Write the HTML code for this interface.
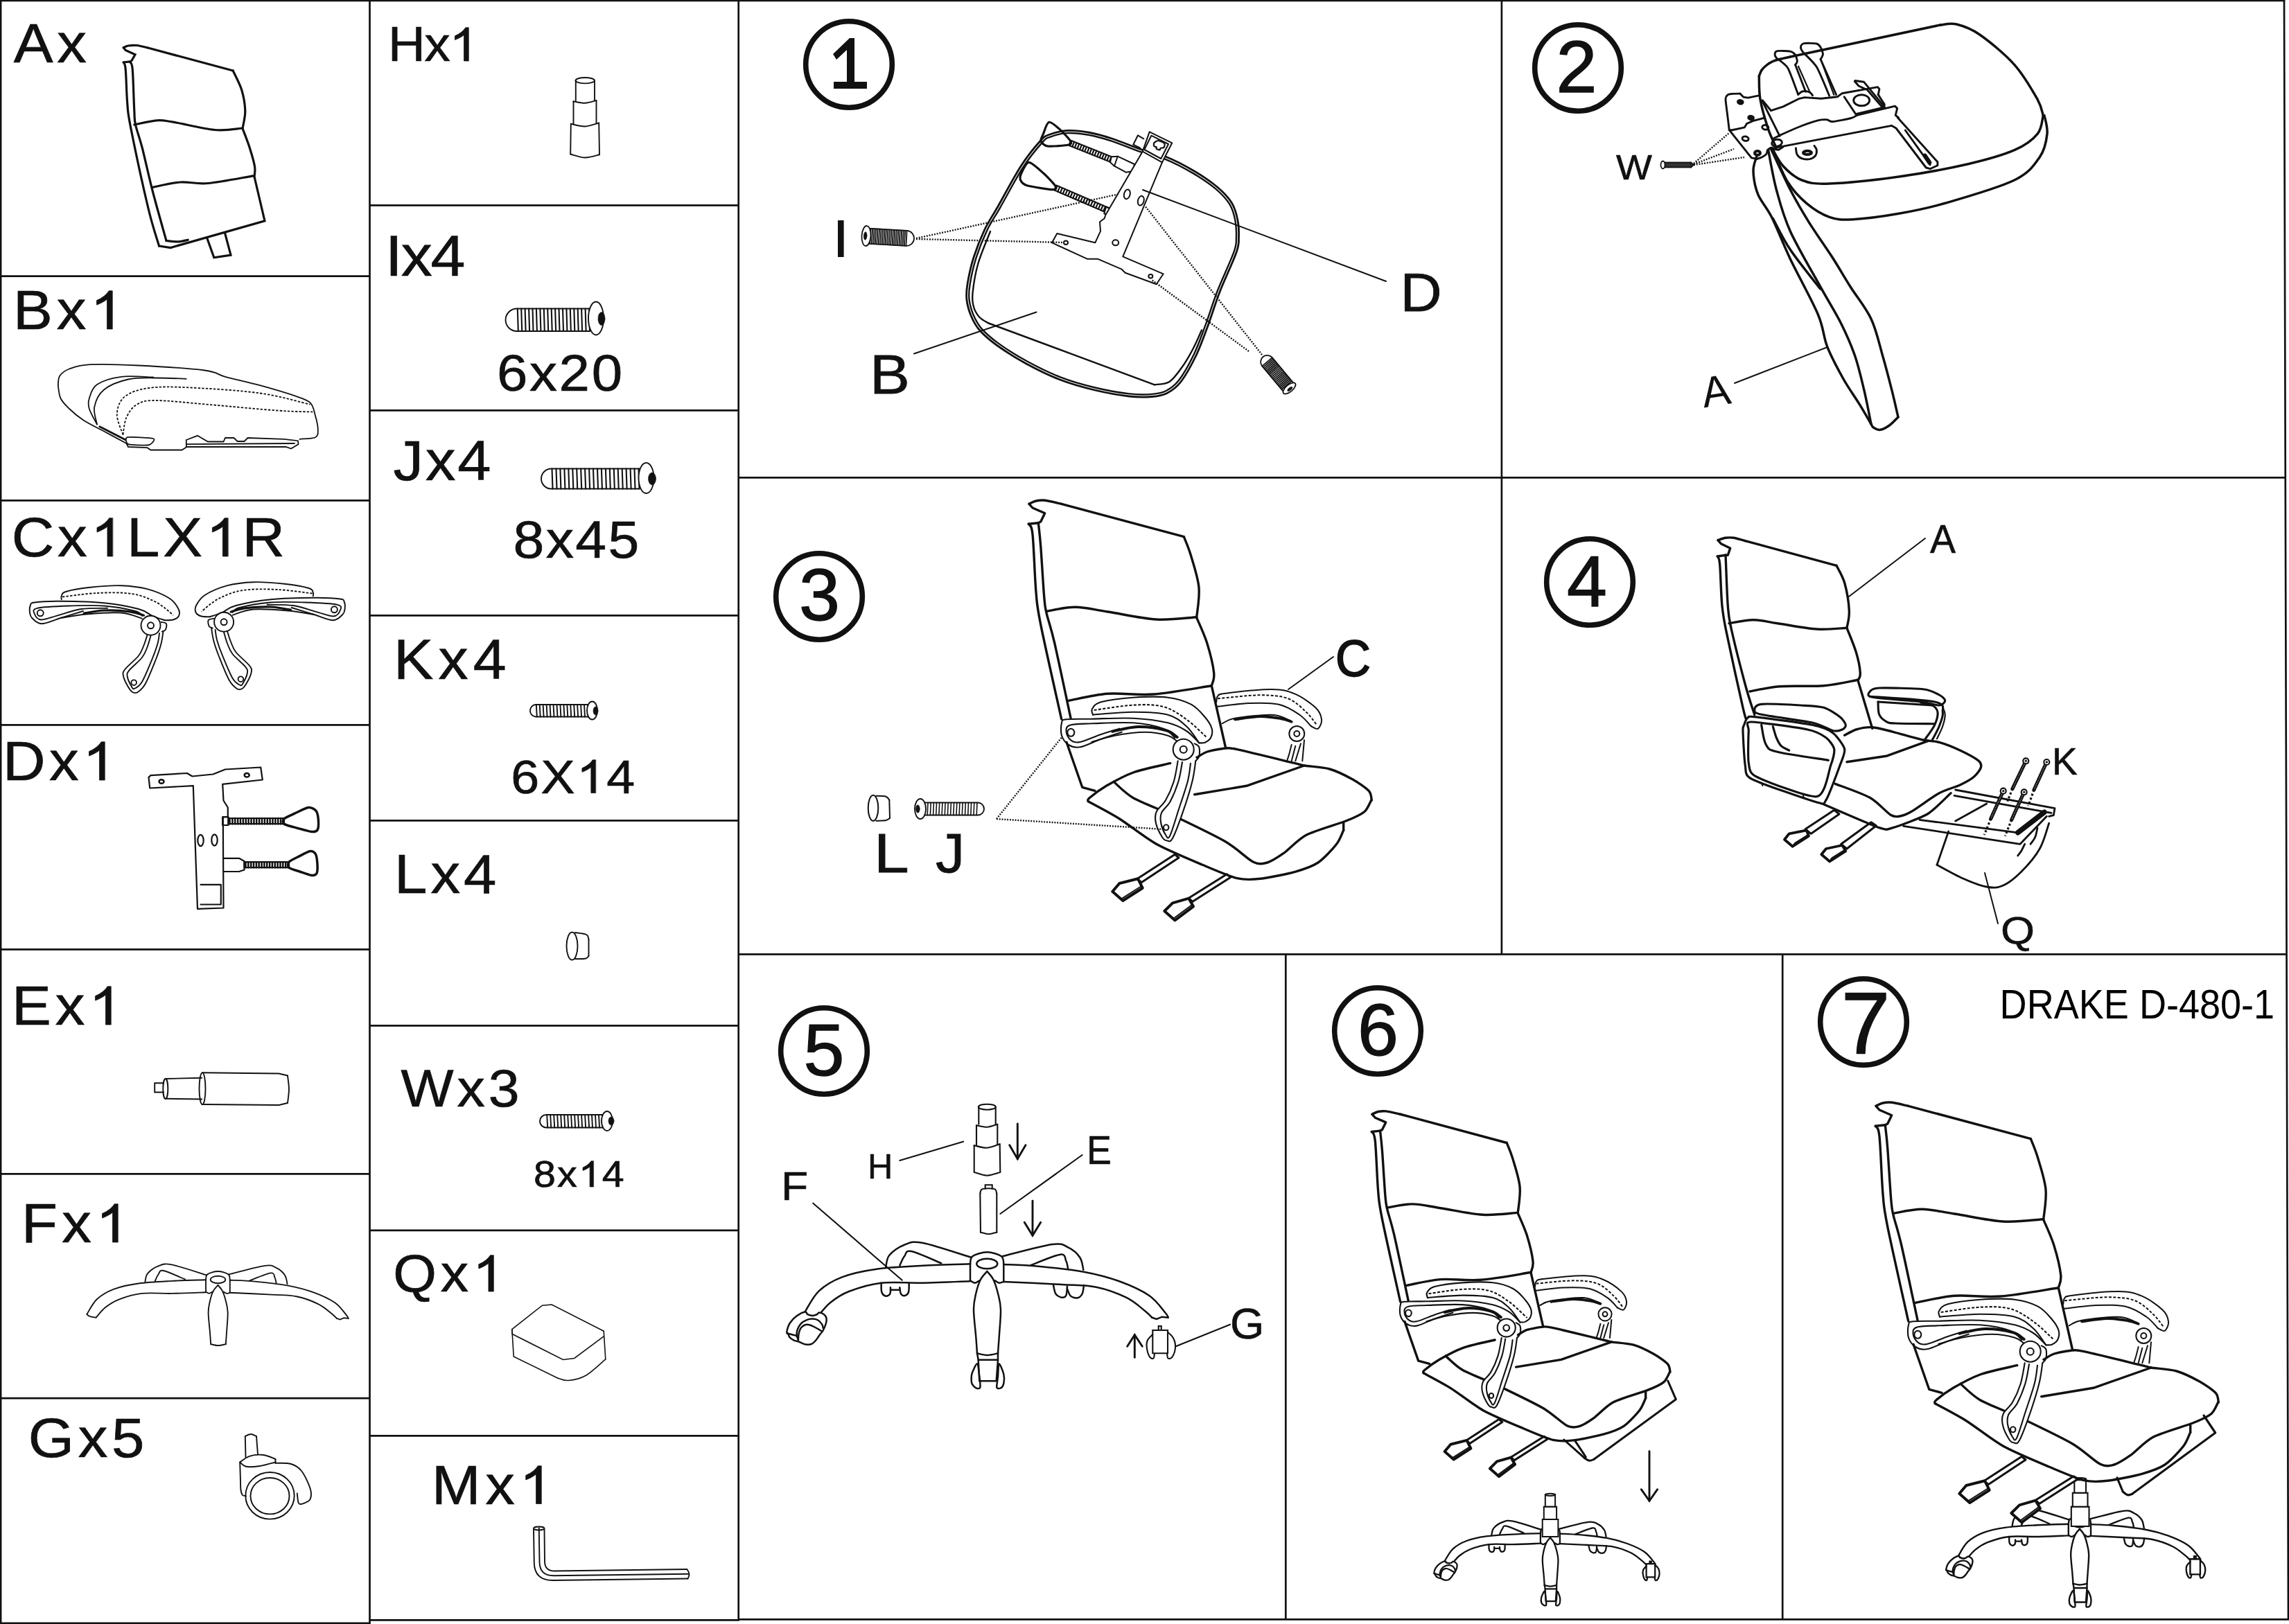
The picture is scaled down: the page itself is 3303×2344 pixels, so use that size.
<!DOCTYPE html>
<html><head><meta charset="utf-8"><title>DRAKE D-480-1</title>
<style>html,body{margin:0;padding:0;background:#fff}svg{display:block}#chair path,#chair ellipse{vector-effect:non-scaling-stroke}text{font-family:"Liberation Sans",sans-serif;fill:#111}</style>
</head><body>
<svg width="3303" height="2344" viewBox="0 0 3303 2344" fill="none" stroke="#111" stroke-linecap="round">
<rect x="0" y="0" width="3303" height="2344" fill="#fff" stroke="none"/>
<g stroke-width="2.7" stroke-linecap="butt">
<path d="M0 1 L3297.5 1M1.1 0 L1.1 2344M3296 0 L3302 2338.7M533.5 0 L533.5 2344M1065.7 0 L1065.7 2339.8M0 398.6 L533.5 398.6M0 722.3 L533.5 722.3M0 1046.3 L533.5 1046.3M0 1370.3 L533.5 1370.3M0 1694.4 L533.5 1694.4M0 2018.2 L533.5 2018.2M0 2342.8 L533.5 2342.8M533.5 296.4 L1065.7 296.4M533.5 592.4 L1065.7 592.4M533.5 888.4 L1065.7 888.4M533.5 1184.4 L1065.7 1184.4M533.5 1480.4 L1065.7 1480.4M533.5 1775.9 L1065.7 1775.9M533.5 2072.3 L1065.7 2072.3M533.5 2338.4 L1065.7 2338.4M1065.7 689.3 L3298 689.3M1065.7 1377.4 L3300 1377.4M1065.7 2337.4 L3303 2337.4M2166.9 0 L2166.9 1377.4M1855.3 1377.4 L1855.3 2338M2572.2 1377.4 L2572.2 2338"/>
</g>
<text stroke-width="0.7" transform="translate(19.8,90) scale(1.0666,1)" font-size="79.9">A</text>
<text stroke-width="0.7" transform="translate(82.3,90) scale(1.0666,1)" font-size="79.9">x</text>
<text stroke-width="0.7" transform="translate(19,475) scale(1.0666,1)" font-size="79.9">B</text>
<text stroke-width="0.7" transform="translate(81.7,475) scale(1.0666,1)" font-size="79.9">x</text>
<path d="M763 0 L583 0 L583 1147 Q518 1085 412.5 1023 T223 930 L223 1104 Q372 1174 483.5 1273.5 T647 1472 L763 1472 Z" transform="translate(130.2,475) scale(0.04164,-0.03752)" fill="#111" stroke-width="18.7"/>
<text stroke-width="0.7" transform="translate(16.7,803) scale(1.0666,1)" font-size="79.9">C</text>
<text stroke-width="0.7" transform="translate(83.1,803) scale(1.0666,1)" font-size="79.9">x</text>
<path d="M763 0 L583 0 L583 1147 Q518 1085 412.5 1023 T223 930 L223 1104 Q372 1174 483.5 1273.5 T647 1472 L763 1472 Z" transform="translate(130.7,803) scale(0.04164,-0.03752)" fill="#111" stroke-width="18.7"/>
<text stroke-width="0.7" transform="translate(183,803) scale(1.0666,1)" font-size="79.9">L</text>
<text stroke-width="0.7" transform="translate(235.3,803) scale(1.0666,1)" font-size="79.9">X</text>
<path d="M763 0 L583 0 L583 1147 Q518 1085 412.5 1023 T223 930 L223 1104 Q372 1174 483.5 1273.5 T647 1472 L763 1472 Z" transform="translate(297.1,803) scale(0.04164,-0.03752)" fill="#111" stroke-width="18.7"/>
<text stroke-width="0.7" transform="translate(349.4,803) scale(1.0666,1)" font-size="79.9">R</text>
<text stroke-width="0.7" transform="translate(4,1126) scale(1.0666,1)" font-size="79.9">D</text>
<text stroke-width="0.7" transform="translate(71.1,1126) scale(1.0666,1)" font-size="79.9">x</text>
<path d="M763 0 L583 0 L583 1147 Q518 1085 412.5 1023 T223 930 L223 1104 Q372 1174 483.5 1273.5 T647 1472 L763 1472 Z" transform="translate(119.2,1126) scale(0.04164,-0.03752)" fill="#111" stroke-width="18.7"/>
<text stroke-width="0.7" transform="translate(17,1479) scale(1.0666,1)" font-size="79.9">E</text>
<text stroke-width="0.7" transform="translate(79.7,1479) scale(1.0666,1)" font-size="79.9">x</text>
<path d="M763 0 L583 0 L583 1147 Q518 1085 412.5 1023 T223 930 L223 1104 Q372 1174 483.5 1273.5 T647 1472 L763 1472 Z" transform="translate(128.2,1479) scale(0.04164,-0.03752)" fill="#111" stroke-width="18.7"/>
<text stroke-width="0.7" transform="translate(31,1793) scale(1.0666,1)" font-size="79.9">F</text>
<text stroke-width="0.7" transform="translate(89.3,1793) scale(1.0666,1)" font-size="79.9">x</text>
<path d="M763 0 L583 0 L583 1147 Q518 1085 412.5 1023 T223 930 L223 1104 Q372 1174 483.5 1273.5 T647 1472 L763 1472 Z" transform="translate(138.2,1793) scale(0.04164,-0.03752)" fill="#111" stroke-width="18.7"/>
<text stroke-width="0.7" transform="translate(40.7,2103) scale(1.0666,1)" font-size="79.9">G</text>
<text stroke-width="0.7" transform="translate(112.8,2103) scale(1.0666,1)" font-size="79.9">x</text>
<text stroke-width="0.7" transform="translate(161.1,2103) scale(1.0666,1)" font-size="79.9">5</text>
<text stroke-width="0.7" transform="translate(559.9,88) scale(1.0666,1)" font-size="69.8">H</text>
<text stroke-width="0.7" transform="translate(612.4,88) scale(1.0666,1)" font-size="69.8">x</text>
<path d="M763 0 L583 0 L583 1147 Q518 1085 412.5 1023 T223 930 L223 1104 Q372 1174 483.5 1273.5 T647 1472 L763 1472 Z" transform="translate(648.3,88) scale(0.03634,-0.03274)" fill="#111" stroke-width="21.4"/>
<text stroke-width="0.7" transform="translate(555.7,397.5) scale(1.0666,1)" font-size="84.3">I</text>
<text stroke-width="0.7" transform="translate(578.7,397.5) scale(1.0666,1)" font-size="84.3">x</text>
<text stroke-width="0.7" transform="translate(621.6,397.5) scale(1.0666,1)" font-size="84.3">4</text>
<text stroke-width="0.7" transform="translate(567.6,693) scale(1.0666,1)" font-size="81.4">J</text>
<text stroke-width="0.7" transform="translate(613.9,693) scale(1.0666,1)" font-size="81.4">x</text>
<text stroke-width="0.7" transform="translate(660.2,693) scale(1.0666,1)" font-size="81.4">4</text>
<text stroke-width="0.7" transform="translate(567.9,979.5) scale(1.0666,1)" font-size="80.7">K</text>
<text stroke-width="0.7" transform="translate(632.5,979.5) scale(1.0666,1)" font-size="80.7">x</text>
<text stroke-width="0.7" transform="translate(682.7,979.5) scale(1.0666,1)" font-size="80.7">4</text>
<text stroke-width="0.7" transform="translate(569,1288.5) scale(1.0666,1)" font-size="79.9">L</text>
<text stroke-width="0.7" transform="translate(621.4,1288.5) scale(1.0666,1)" font-size="79.9">x</text>
<text stroke-width="0.7" transform="translate(669.1,1288.5) scale(1.0666,1)" font-size="79.9">4</text>
<text stroke-width="0.7" transform="translate(578.6,1597) scale(1.0666,1)" font-size="75.6">W</text>
<text stroke-width="0.7" transform="translate(659.6,1597) scale(1.0666,1)" font-size="75.6">x</text>
<text stroke-width="0.7" transform="translate(704.7,1597) scale(1.0666,1)" font-size="75.6">3</text>
<text stroke-width="0.7" transform="translate(567.2,1864) scale(1.0666,1)" font-size="75.6">Q</text>
<text stroke-width="0.7" transform="translate(635.8,1864) scale(1.0666,1)" font-size="75.6">x</text>
<path d="M763 0 L583 0 L583 1147 Q518 1085 412.5 1023 T223 930 L223 1104 Q372 1174 483.5 1273.5 T647 1472 L763 1472 Z" transform="translate(682,1864) scale(0.03937,-0.03547)" fill="#111" stroke-width="19.7"/>
<text stroke-width="0.7" transform="translate(623.1,2170.5) scale(1.0666,1)" font-size="79.2">M</text>
<text stroke-width="0.7" transform="translate(700.4,2170.5) scale(1.0666,1)" font-size="79.2">x</text>
<path d="M763 0 L583 0 L583 1147 Q518 1085 412.5 1023 T223 930 L223 1104 Q372 1174 483.5 1273.5 T647 1472 L763 1472 Z" transform="translate(749.5,2170.5) scale(0.04127,-0.03718)" fill="#111" stroke-width="18.8"/>
<text stroke-width="0.7" transform="translate(716.9,564) scale(1.0666,1)" font-size="74.9">6</text>
<text stroke-width="0.7" transform="translate(764,564) scale(1.0666,1)" font-size="74.9">x</text>
<text stroke-width="0.7" transform="translate(806.6,564) scale(1.0666,1)" font-size="74.9">2</text>
<text stroke-width="0.7" transform="translate(853.7,564) scale(1.0666,1)" font-size="74.9">0</text>
<text stroke-width="0.7" transform="translate(740.5,805) scale(1.0666,1)" font-size="75.6">8</text>
<text stroke-width="0.7" transform="translate(787.7,805) scale(1.0666,1)" font-size="75.6">x</text>
<text stroke-width="0.7" transform="translate(830.3,805) scale(1.0666,1)" font-size="75.6">4</text>
<text stroke-width="0.7" transform="translate(877.5,805) scale(1.0666,1)" font-size="75.6">5</text>
<text stroke-width="0.7" transform="translate(737.3,1144.5) scale(1.0666,1)" font-size="69">6</text>
<text stroke-width="0.7" transform="translate(780.5,1144.5) scale(1.0666,1)" font-size="69">X</text>
<path d="M763 0 L583 0 L583 1147 Q518 1085 412.5 1023 T223 930 L223 1104 Q372 1174 483.5 1273.5 T647 1472 L763 1472 Z" transform="translate(831.9,1144.5) scale(0.03597,-0.0324)" fill="#111" stroke-width="21.6"/>
<text stroke-width="0.7" transform="translate(875.2,1144.5) scale(1.0666,1)" font-size="69">4</text>
<text stroke-width="0.7" transform="translate(770,1713) scale(1.0666,1)" font-size="53.8">8</text>
<text stroke-width="0.7" transform="translate(804,1713) scale(1.0666,1)" font-size="53.8">x</text>
<path d="M763 0 L583 0 L583 1147 Q518 1085 412.5 1023 T223 930 L223 1104 Q372 1174 483.5 1273.5 T647 1472 L763 1472 Z" transform="translate(834.8,1713) scale(0.02802,-0.02524)" fill="#111" stroke-width="27.7"/>
<text stroke-width="0.7" transform="translate(868.8,1713) scale(1.0666,1)" font-size="53.8">4</text>
<g stroke-width="3.2">
<path d="M178.2 68.8 C179.4 68.3 181.8 66.5 185 66 C188.2 65.5 192.9 65 197.5 65.5 C202.1 66 210 68.2 212.5 68.8"/>
<path d="M212.5 68.8 L336.2 102"/>
<path d="M336.2 102 C338.3 106.7 345.8 120.3 348.8 130 C351.7 139.7 353.5 150.8 353.8 160 C354 169.2 350.6 181.2 350 185.5"/>
<path d="M350 185.5 C351.7 190 357.1 203.4 360 212.5 C362.9 221.6 366.3 232.9 367.5 240 C368.7 247.1 367.1 252.5 367 255"/>
<path d="M367 255 L382 318.8 L246.2 357.5 L229.5 355"/>
<path d="M178.2 90 C178.8 91.7 180.3 90 181.2 100 C182.2 110 182.5 135.8 183.8 150 C185 164.2 183.8 160 188.8 185 C193.8 210 207 271.7 213.8 300 C220.5 328.3 226.9 345.8 229.5 355"/>
<path d="M187.5 89.5 C188.1 91.2 190.2 88.2 191.2 100 C192.3 111.8 193 146.7 193.8 160 C194.5 173.3 193.6 171.2 195.5 180 C197.4 188.8 200.9 196.7 205 212.5 C209.1 228.3 214.2 252.5 220 275 C225.8 297.5 236.7 335.4 240 347.5"/>
<path d="M240 347.5 C242.9 347.7 252.3 349 257.5 348.8 C262.7 348.5 269 346.7 271.2 346.2"/>
<path d="M178.2 68.8 L181.2 72.5 L195 78.8 L190 87.5 L187.5 89.5"/>
<path d="M178.2 90 L187.5 88.8"/>
<path d="M193.8 180 C199.2 179 216.9 174.4 226.2 173.8 C235.6 173.1 236 174 250 176.2 C264 178.5 293.3 186 310 187.5 C326.7 189 343.3 185.4 350 185"/>
<path d="M219.5 270.5 C226.2 269.2 246.6 264 260 263 C273.4 262 282.4 266 300 264.5 C317.6 263 354.6 255.5 365.5 253.8"/>
<path d="M298.8 343.8 L308.8 371.8 L333 368.2 L324.5 336.2"/>
</g>
<g stroke-width="1.8">
<path d="M83.8 556.2 C84.2 554 83.5 546.5 86.2 542.5 C89 538.5 92.7 535.2 100 532.5 C107.3 529.8 113.3 527.1 130 526.2 C146.7 525.4 172.5 526.1 200 527.5 C227.5 528.9 274.2 531.8 295 534.5 C315.8 537.2 311.7 540.1 325 543.8 C338.3 547.4 358.3 551.7 375 556.2 C391.7 560.8 412.9 567.1 425 571.2 C437.1 575.4 442.5 576.5 447.5 581.2 C452.5 586 453.1 593.5 455 600 C456.9 606.5 458.8 614.8 458.8 620 C458.8 625.2 459.4 629 455 631.2 C450.6 633.5 436.2 633.3 432.5 633.8"/>
<path d="M83.8 556.2 C84.4 559.4 84.8 569.4 87.5 575 C90.2 580.6 94.6 584.8 100 590 C105.4 595.2 111.7 600.8 120 606.2 C128.3 611.7 139.6 616.9 150 622.5 C160.4 628.1 177.1 637.1 182.5 640"/>
<path d="M143.8 615.8 L180.5 634.5" stroke-width="2.8"/>
<path d="M140 612.5 C138.1 608.8 130.6 596.2 128.8 590 C126.9 583.8 126.9 580.8 128.8 575 C130.6 569.2 132.3 560.2 140 555 C147.7 549.8 161.5 545.5 175 543.8 C188.5 542 213.5 544.4 221.2 544.5"/>
<path d="M140 612.5 C139.4 608.3 134.6 595.8 136.2 587.5 C137.9 579.2 141.9 569.2 150 562.5 C158.1 555.8 172.5 550.3 185 547.5 C197.5 544.7 211 545.6 225 545.5 C239 545.4 261.5 546.5 268.8 546.8"/>
<path d="M177.5 627.5 C176 622.5 168.3 606.7 168.8 597.5 C169.2 588.3 172.3 578.8 180 572.5 C187.7 566.2 199.2 562.2 215 560 C230.8 557.8 248.3 558.2 275 559.5 C301.7 560.8 346.2 563.5 375 567.5 C403.8 571.5 435.4 581 447.5 583.8" stroke-dasharray="3.4 2.2" stroke-linecap="butt"/>
<path d="M177.5 627.5 C178.3 623.3 179.2 609.8 182.5 602.5 C185.8 595.2 190.4 587.8 197.5 583.8 C204.6 579.7 207.9 578 225 578 C242.1 578 270.8 581.3 300 583.8 C329.2 586.2 374.8 590.7 400 592.5 C425.2 594.3 442.7 594.2 451.2 594.5" stroke-dasharray="3.4 2.2" stroke-linecap="butt"/>
<path d="M182.5 640 L185 645 L212.5 646.2 L217.5 649.5 L262.5 649.5 L268.8 645.5 L268.8 635 L285 628.8 L300 637.5 L322.5 637.5 L325 632 L337.5 632 L342.5 637 L352.5 637 L357.5 632 L410 633.8 L430 636.2 L430.5 641.2 L420 647.5 L412.5 645 L268.8 645"/>
<path d="M183.8 631.2 C187.4 630.4 217.8 632.1 221.2 633 C224.8 633.9 219.6 639 218.8 640 C217.9 641 215.9 642.4 212.5 642.5 C209.1 642.6 187.9 642.4 185 641.2 C182.1 640.1 180.1 632.1 183.8 631.2Z"/>
<path d="M268.8 641.2 L425 640"/>
</g>
<g id="armC" stroke-width="1.9">
<path d="M88.8 865.2 C88.8 864.4 87.7 862.1 88.8 860.2 C89.8 858.4 88.1 856.1 95 854 C101.9 851.9 116.7 849.2 130 847.8 C143.3 846.3 161.2 844.8 175 845.2 C188.8 845.7 200.8 847.1 212.5 850.2 C224.2 853.4 237.5 859.2 245 864 C252.5 868.8 255.3 874.8 257.5 879 C259.7 883.2 259.2 886.4 258 889 C256.8 891.6 253.4 893.5 250 894.5 C246.6 895.5 239.6 895.1 237.5 895.2"/>
<path d="M90 861.5 C98.3 860.6 123.3 856.8 140 856 C156.7 855.2 175.8 854.8 190 857 C204.2 859.2 215 863.9 225 869 C235 874.1 245.8 884.6 250 887.8" stroke-dasharray="3.4 2.2" stroke-linecap="butt"/>
<path d="M237.5 895.2 C234.6 894.2 226.2 891.7 220 889 C213.8 886.3 211.7 882.1 200 879 C188.3 875.9 168.8 872.1 150 870.2 C131.2 868.4 104.2 867.9 87.5 867.8 C70.8 867.6 57.3 868.5 50 869.5 C42.7 870.5 44.9 871.6 43.8 874 C42.6 876.4 42.6 881 43 884 C43.4 887 43.4 889.3 46.2 892 C49.1 894.7 53.1 900.2 60 900.2 C66.9 900.2 77.5 895 87.5 892 C97.5 889 114.6 883.7 120 882"/>
<path d="M87.5 892 C93.8 891.1 110.4 887.8 125 886.5 C139.6 885.2 161.7 883.5 175 884.5 C188.3 885.5 200 891.4 205 892.8"/>
<path d="M205 889 C203.3 887.8 204.2 884.4 195 882 C185.8 879.6 165.8 875.8 150 874.5 C134.2 873.2 116 874 100 874.5 C84 875 62.1 875.8 53.8 877.8 C45.4 879.8 49 883.7 50 886.5 C51 889.3 54.2 894.3 60 894.5 C65.8 894.7 75.4 890.3 85 887.8 C94.6 885.2 105.8 880.7 117.5 879 C129.2 877.3 148.8 878 155 877.8"/>
<path d="M121.2 885.2 C126 884.5 139 881.4 150 881 C161 880.6 177.9 881.5 187.5 882.8 C197.1 884 204.2 887.3 207.5 888.2" stroke-width="3.2"/>
<ellipse cx="58.2" cy="884.8" rx="4.5" ry="4.5"/>
<path d="M232.5 897.8 C233.8 898.2 239 898.4 240 900.2 C241 902.1 239.8 907.1 238.8 909 C237.7 910.9 234.6 911.1 233.8 911.5"/>
<ellipse cx="217.5" cy="902.8" rx="14" ry="14" fill="#fff"/>
<ellipse cx="217.5" cy="902.8" rx="4.5" ry="4.5"/>
<path d="M212.5 916.5 C211.7 919 209.6 926.5 207.5 931.5 C205.4 936.5 204.6 940.7 200 946.5 C195.4 952.3 183.6 961.5 180 966.5 C176.4 971.5 177.4 972.3 178.2 976.5 C179.1 980.7 182.8 987.8 185 991.5 C187.2 995.2 189 997.8 191.2 999 C193.5 1000.2 195.6 1001.1 198.8 999 C201.9 996.9 205.6 994.4 210 986.5 C214.4 978.6 221.2 961.1 225 951.5 C228.8 941.9 230.8 935.7 232.5 929 C234.2 922.3 235 914.4 235.5 911.5"/>
<path d="M217.5 917.8 C216.7 920.5 214.6 928.8 212.5 934 C210.4 939.2 209.4 943.4 205 949 C200.6 954.6 189.8 963.2 186.2 967.8 C182.7 972.3 183.2 972.8 183.8 976.5 C184.3 980.2 187.8 987.3 189.5 990.2 C191.2 993.2 191.2 995 193.8 994 C196.3 993 200.6 991.3 205 984 C209.4 976.7 216.2 959.4 220 950.2 C223.8 941.1 225.8 935 227.5 929 C229.2 923 229.6 916.5 230 914"/>
<ellipse cx="193.2" cy="985.2" rx="3.8" ry="3.8"/>
</g>
<use href="#armC" transform="translate(540.6,-5) scale(-1,1)"/>
<g stroke-width="2.2" stroke-linejoin="round">
<path d="M216.2 1137.5 L214.5 1121.8 L217.5 1119.2 L270 1116 L277.5 1120.5 L307.5 1117.5 L325 1110.5 L376.2 1107.5 L378.8 1125.5 L321.2 1131.8 L322.5 1155.5 L328.8 1165.5 L328.8 1179.2 L321.8 1179.2 L322.5 1310.5 L285 1311.8 L278.8 1134.2Z"/>
<ellipse cx="233" cy="1128" rx="3.5" ry="2.8" stroke-width="2.5"/>
<ellipse cx="356.2" cy="1118.8" rx="3.5" ry="2.8" stroke-width="2.5"/>
<ellipse cx="289.5" cy="1213" rx="4.2" ry="8.2"/>
<ellipse cx="309.5" cy="1212.5" rx="4.2" ry="8.2"/>
<path d="M289.5 1276.8 L318.8 1276.8 L318.8 1305.5 L289.5 1305.5"/>
<path d="M321.2 1179.2 L329.5 1179.2 L329.5 1191 L321.2 1191Z"/>
<rect x="329.5" y="1181" width="80.5" height="8.2"/>
<path d="M331.5 1181 V1189.2M335.4 1181 V1189.2M339.2 1181 V1189.2M343.1 1181 V1189.2M347 1181 V1189.2M350.9 1181 V1189.2M354.8 1181 V1189.2M358.6 1181 V1189.2M362.5 1181 V1189.2M366.4 1181 V1189.2M370.2 1181 V1189.2M374.1 1181 V1189.2M378 1181 V1189.2M381.9 1181 V1189.2M385.8 1181 V1189.2M389.6 1181 V1189.2M393.5 1181 V1189.2M397.4 1181 V1189.2M401.2 1181 V1189.2M405.1 1181 V1189.2M409 1181 V1189.2" stroke-width="2.5"/>
<path d="M410 1181.8 C412 1179.8 420.3 1176.4 425 1174.2 C429.7 1172.1 440.8 1166 445 1165.5 C449.2 1165 454.3 1167.8 456.2 1170.5 C458.2 1173.2 459.3 1181.8 459.5 1185.5 C459.7 1189.2 459.3 1196 458 1198 C456.7 1200 453.7 1200.8 450 1200.5 C446.3 1200.2 435.3 1197 430 1195.5 C424.7 1194 412.7 1191.1 410 1189.2 C407.3 1187.4 408 1183.8 410 1181.8Z" stroke-width="3.5"/>
<path d="M322.5 1238.8 L345 1238.8 L352.5 1243 L352.5 1255.5 L345 1258 L322.5 1258"/>
<rect x="352.5" y="1244.2" width="64.5" height="8"/>
<path d="M354.5 1244.2 V1252.2M358.3 1244.2 V1252.2M362.2 1244.2 V1252.2M366 1244.2 V1252.2M369.9 1244.2 V1252.2M373.7 1244.2 V1252.2M377.6 1244.2 V1252.2M381.4 1244.2 V1252.2M385.2 1244.2 V1252.2M389.1 1244.2 V1252.2M392.9 1244.2 V1252.2M396.8 1244.2 V1252.2M400.6 1244.2 V1252.2M404.5 1244.2 V1252.2M408.3 1244.2 V1252.2M412.2 1244.2 V1252.2M416 1244.2 V1252.2" stroke-width="2.5"/>
<path d="M417 1244.2 C418.7 1242.2 425.9 1238.8 430 1236.8 C434.1 1234.7 444.1 1229 447.5 1228.5 C450.9 1228 454.1 1230.4 455.5 1233 C456.9 1235.6 457.8 1244.3 458 1248 C458.2 1251.7 458.1 1258.4 457 1260.5 C455.9 1262.6 453.3 1263.8 450 1263.5 C446.7 1263.2 436.9 1259.5 432.5 1258 C428.1 1256.5 419.1 1254.1 417 1252.2 C414.9 1250.4 415.3 1246.3 417 1244.2Z" stroke-width="3.5"/>
</g>
<g stroke-width="1.9">
<path d="M236.2 1563.2 L223.2 1563.2 L223.2 1576.5 L236.2 1576.5"/>
<path d="M238.8 1557 L291.2 1555.8"/>
<path d="M238.8 1585.8 L291.2 1586.5"/>
<ellipse cx="238.8" cy="1571.5" rx="3.5" ry="14.5"/>
<path d="M292.5 1548.2 L402.5 1549.5 L415 1552.5"/>
<path d="M415 1592 L402.5 1595 L292.5 1594"/>
<path d="M415 1552.5 C415.3 1555.8 417 1565.4 417 1572 C417 1578.6 415.3 1588.7 415 1592"/>
<ellipse cx="292" cy="1571.2" rx="4.5" ry="23"/>
</g>
<g stroke-width="1.9">
<ellipse cx="389.5" cy="2158.8" rx="35.2" ry="33.8"/>
<ellipse cx="389.5" cy="2159.2" rx="28" ry="26.2"/>
<path d="M354.5 2103 L353.8 2073"/>
<path d="M353.8 2073 C355.1 2072.5 359.3 2070 362 2070 C364.7 2070 368.7 2072.5 370 2073"/>
<path d="M370 2073 L372 2099.2"/>
<path d="M346.2 2110.5 C348.5 2109 354.4 2103.5 360 2101.8 C365.6 2100 373.8 2099.3 380 2100 C386.2 2100.7 394.6 2105 397.5 2106"/>
<path d="M346.2 2110.5 C347.7 2111.5 350.2 2115.8 355 2116.8 C359.8 2117.7 367.9 2117 375 2116 C382.1 2115 393.8 2111.4 397.5 2110.5"/>
<path d="M397.5 2106 L397.5 2111.8"/>
<path d="M346.2 2110.5 C346.4 2115.1 346.8 2131.3 347 2138 C347.2 2144.7 347 2147.2 347.5 2150.5 C348 2153.8 348.8 2156.5 350 2158 C351.2 2159.5 354.2 2159 355 2159.2"/>
<path d="M397.5 2111.8 C401.2 2112 413.8 2111.1 420 2113 C426.2 2114.9 430.4 2117.2 435 2123 C439.6 2128.8 445.3 2141.3 447.5 2148 C449.7 2154.7 449.2 2159.5 448 2163 C446.8 2166.5 442.8 2168.1 440 2169.2 C437.2 2170.4 433.1 2172.3 431.2 2170 C429.4 2167.7 429.2 2157.9 428.8 2155.5"/>
</g>
<g stroke-width="1.9">
<ellipse cx="844.2" cy="116.2" rx="13.7" ry="4.2"/>
<path d="M830.8 116.2 L830.8 145"/>
<path d="M858 116.2 L858 145"/>
<path d="M827.5 146.2 C830.3 146.7 838.8 149 844.2 148.8 C849.8 148.5 857.8 145.6 860.5 145"/>
<path d="M827.5 146.2 L827.5 178.8"/>
<path d="M860.5 145 L860.5 178"/>
<path d="M823.8 178.8 C827.2 179.4 837.5 182.7 844.2 182.5 C851 182.3 860.9 178.3 864.2 177.5"/>
<path d="M823.8 178.8 L823.2 222.5"/>
<path d="M864.2 177.5 L865 223.2"/>
<path d="M823.2 222.5 C826.8 223.3 837.3 227.4 844.2 227.5 C851.2 227.6 861.5 224 865 223.2"/>
</g>
<path d="M851 445.5 L745.8 445.5 A16.2 16.2 0 0 0 745.8 478 L851 478" stroke-width="1.9"/>
<path d="M746.8 445.5 L747.8 478M752.2 445.5 L753.2 478M757.6 445.5 L758.6 478M763.1 445.5 L764.1 478M768.5 445.5 L769.5 478M773.9 445.5 L774.9 478M779.4 445.5 L780.4 478M784.8 445.5 L785.8 478M790.2 445.5 L791.2 478M795.7 445.5 L796.7 478M801.1 445.5 L802.1 478M806.5 445.5 L807.5 478M812 445.5 L813 478M817.4 445.5 L818.4 478M822.8 445.5 L823.8 478M828.3 445.5 L829.3 478M833.7 445.5 L834.7 478M839.1 445.5 L840.1 478M844.6 445.5 L845.6 478M850 445.5 L851 478" stroke-width="2.1"/>
<ellipse cx="860" cy="459.5" rx="11" ry="24" stroke-width="1.9" fill="#fff"/>
<ellipse cx="868" cy="460" rx="5" ry="9.5" stroke-width="0.6" fill="#111"/>
<path d="M922.5 676.5 L795.5 676.5 A14.5 14.5 0 0 0 795.5 705.5 L922.5 705.5" stroke-width="1.9"/>
<path d="M796.5 676.5 L797.5 705.5M802.5 676.5 L803.5 705.5M808.4 676.5 L809.4 705.5M814.4 676.5 L815.4 705.5M820.3 676.5 L821.3 705.5M826.3 676.5 L827.3 705.5M832.2 676.5 L833.2 705.5M838.2 676.5 L839.2 705.5M844.1 676.5 L845.1 705.5M850.1 676.5 L851.1 705.5M856 676.5 L857 705.5M862 676.5 L863 705.5M867.9 676.5 L868.9 705.5M873.9 676.5 L874.9 705.5M879.8 676.5 L880.8 705.5M885.8 676.5 L886.8 705.5M891.7 676.5 L892.7 705.5M897.7 676.5 L898.7 705.5M903.6 676.5 L904.6 705.5M909.6 676.5 L910.6 705.5M915.5 676.5 L916.5 705.5M921.5 676.5 L922.5 705.5" stroke-width="2.1"/>
<ellipse cx="932.5" cy="690" rx="11" ry="22" stroke-width="1.9" fill="#fff"/>
<ellipse cx="941" cy="691" rx="5.5" ry="9" stroke-width="0.6" fill="#111"/>
<path d="M849 1017 L772.8 1017 A8.8 8.8 0 0 0 772.8 1034.5 L849 1034.5" stroke-width="1.9"/>
<path d="M773.8 1017 L774.8 1034.5M778.7 1017 L779.7 1034.5M783.6 1017 L784.6 1034.5M788.6 1017 L789.6 1034.5M793.5 1017 L794.5 1034.5M798.5 1017 L799.5 1034.5M803.5 1017 L804.5 1034.5M808.4 1017 L809.4 1034.5M813.4 1017 L814.4 1034.5M818.3 1017 L819.3 1034.5M823.2 1017 L824.2 1034.5M828.2 1017 L829.2 1034.5M833.1 1017 L834.1 1034.5M838.1 1017 L839.1 1034.5M843 1017 L844 1034.5M848 1017 L849 1034.5" stroke-width="1.9"/>
<ellipse cx="854.5" cy="1025.5" rx="7.5" ry="13" stroke-width="1.9" fill="#fff"/>
<ellipse cx="859.5" cy="1026" rx="3.5" ry="6" stroke-width="0.6" fill="#111"/>
<path d="M870 1609 L788.2 1609 A9.2 9.2 0 0 0 788.2 1627.5 L870 1627.5" stroke-width="1.9"/>
<path d="M789.2 1609 L790.2 1627.5M794.2 1609 L795.2 1627.5M799.2 1609 L800.2 1627.5M804.2 1609 L805.2 1627.5M809.2 1609 L810.2 1627.5M814.2 1609 L815.2 1627.5M819.2 1609 L820.2 1627.5M824.1 1609 L825.1 1627.5M829.1 1609 L830.1 1627.5M834.1 1609 L835.1 1627.5M839.1 1609 L840.1 1627.5M844.1 1609 L845.1 1627.5M849.1 1609 L850.1 1627.5M854 1609 L855 1627.5M859 1609 L860 1627.5M864 1609 L865 1627.5M869 1609 L870 1627.5" stroke-width="1.9"/>
<ellipse cx="876" cy="1618" rx="8" ry="14" stroke-width="1.9" fill="#fff"/>
<ellipse cx="882" cy="1618" rx="4" ry="6" stroke-width="0.6" fill="#111"/>
<g stroke-width="1.9">
<ellipse cx="825.5" cy="1365.5" rx="8" ry="20"/>
<path d="M830 1346 C832.7 1346.5 843 1347.3 846.2 1349 C849.5 1350.7 849 1354.8 849.5 1356"/>
<path d="M849.5 1356 L849.5 1379.8"/>
<path d="M849.5 1379.8 C848.8 1380.4 848.2 1382.8 845 1383.5 C841.8 1384.2 832.5 1383.9 830 1384"/>
</g>
<g stroke-width="1.6">
<path d="M739.2 1925.5 L738.8 1918.5 L782.5 1884.2 L796.2 1883 L871.2 1921.2"/>
<path d="M739.2 1925.5 L812.5 1962.5 L828.8 1960.5 L871.2 1928.8"/>
<path d="M738.8 1918.5 L741.2 1958 L805 1989.2"/>
<path d="M805 1989.2 C807.5 1989.8 813.3 1993.1 820 1992.5 C826.7 1991.9 836 1990.6 845 1985.5 C854 1980.4 869 1965.7 873.8 1961.8"/>
<path d="M873.8 1961.8 L871.2 1921.2"/>
</g>
<g stroke-width="1.9" transform="translate(520,1938) scale(0.25)">
<g stroke-width="7.6"><path d="M1000 1075 L1003 1270 Q1005 1372 1110 1372 L1890 1362"/><path d="M1062 1075 L1064 1265 Q1066 1318 1120 1318 L1885 1308"/><path d="M1031 1070 L1034 1268 Q1036 1345 1115 1345 L1895 1335"/><ellipse cx="1031" cy="1072" rx="31" ry="10"/><path d="M1885 1308 Q1908 1335 1890 1362"/></g>
</g>
<defs>
<g id="baseF">
<ellipse cx="1424.3" cy="1824" rx="15" ry="7.3"/>
<path d="M1400 1825 C1400.6 1823.1 1399.3 1816.3 1403.3 1813.3 C1407.4 1810.4 1417.4 1807.3 1424.3 1807.3 C1431.3 1807.3 1441 1810.4 1445 1813.3 C1449 1816.3 1447.8 1823.1 1448.3 1825"/>
<path d="M1400 1825 L1400 1848.3"/>
<path d="M1448.3 1825 L1448.3 1850"/>
<path d="M1400 1848.3 C1401.1 1848.9 1404.4 1851.7 1406.7 1851.7 C1408.9 1851.7 1412.2 1848.9 1413.3 1848.3"/>
<path d="M1435.7 1848.3 C1436.7 1848.9 1439.6 1851.4 1441.7 1851.7 C1443.8 1851.9 1447.2 1850.3 1448.3 1850"/>
<path d="M1400 1824.3 C1388.6 1824.7 1354.2 1825.4 1331.7 1826.7 C1309.2 1827.9 1284.4 1828.9 1265 1831.7 C1245.6 1834.4 1228.9 1838.1 1215 1843.3 C1201.1 1848.6 1190.6 1855 1181.7 1863.3 C1172.8 1871.7 1165 1888.3 1161.7 1893.3"/>
<path d="M1400 1849.3 C1388.6 1849.7 1353.1 1851.3 1331.7 1851.7 C1310.3 1852.1 1289.4 1849.6 1271.7 1851.7 C1253.9 1853.7 1237.2 1859.3 1225 1864 C1212.8 1868.7 1205.8 1874 1198.3 1880 C1190.8 1886 1183.1 1896.7 1180 1900"/>
<path d="M1448.3 1825 C1456.7 1825.4 1478.9 1825.8 1498.3 1827.7 C1517.8 1829.5 1545.6 1832.4 1565 1836 C1584.4 1839.6 1599.4 1843.7 1615 1849.3 C1630.6 1855 1647.2 1862.4 1658.3 1870 C1669.4 1877.6 1677.1 1889.7 1681.7 1895 C1686.2 1900.3 1685 1900.6 1685.7 1901.7"/>
<path d="M1448.3 1850 C1462.2 1850.7 1509.4 1852.7 1531.7 1854 C1553.9 1855.3 1566.1 1854.6 1581.7 1857.7 C1597.2 1860.8 1613.3 1867 1625 1872.7 C1636.7 1878.3 1645.4 1886.8 1651.7 1891.7 C1657.9 1896.5 1660.6 1900 1662.3 1901.7"/>
<path d="M1278.3 1828.3 C1279.2 1825.6 1278.9 1816.9 1283.3 1811.7 C1287.8 1806.4 1296.9 1799.6 1305 1796.7 C1313.1 1793.7 1315.6 1790.9 1331.7 1794 C1347.8 1797.1 1390 1811.5 1401.7 1815"/>
<path d="M1298.3 1826.7 C1299.4 1824.4 1302.2 1816.8 1305 1813.3 C1307.8 1809.9 1306.1 1804.3 1315 1806 C1323.9 1807.7 1351.1 1820.4 1358.3 1823.3"/>
<path d="M1446.7 1813.3 C1458.6 1810.4 1502.5 1798.1 1518.3 1796 C1534.2 1793.9 1535 1797.5 1541.7 1800.7 C1548.3 1803.8 1554.7 1809.7 1558.3 1815 C1561.9 1820.3 1562.5 1829.7 1563.3 1832.7"/>
<path d="M1487.7 1826 C1494.7 1823.4 1521.6 1811.7 1530 1810.7 C1538.4 1809.7 1536.5 1816.7 1538.3 1820 C1540.2 1823.3 1540.6 1828.9 1541 1830.7"/>
<path d="M1424.3 1835 C1422.8 1836.9 1417.7 1841.4 1415 1846.7 C1412.3 1851.9 1410 1859.4 1408.3 1866.7 C1406.7 1873.9 1405 1879.4 1405 1890 C1405 1900.6 1407.5 1919.4 1408.3 1930 C1409.2 1940.6 1409.7 1949.4 1410 1953.3"/>
<path d="M1424.3 1835 C1425.8 1836.9 1430.7 1841.4 1433.3 1846.7 C1435.9 1851.9 1438.2 1859.4 1440 1866.7 C1441.8 1873.9 1443.7 1879.4 1444 1890 C1444.3 1900.6 1442.3 1919.4 1441.7 1930 C1441 1940.6 1440.3 1949.4 1440 1953.3"/>
</g>
<g id="baseEnds">
<path d="M1662.3 1901.7 L1669 1904 L1676.7 1900.7 L1685.7 1901.7"/>
</g>
<g id="baseLeftEnd">
<path d="M1161.7 1893.3 C1162.5 1894 1164.4 1896.3 1166.7 1897.3 C1168.9 1898.3 1172.8 1898.9 1175 1899.3 C1177.2 1899.8 1179.2 1899.9 1180 1900"/>
</g>
<g id="baseLegFlat">
<path d="M1410 1953.3 C1412.4 1953.8 1419.3 1956 1424.3 1956 C1429.3 1956 1437.4 1953.8 1440 1953.3"/>
</g>
<g id="baseStems">
<path d="M1271.7 1851.7 C1271.8 1853.9 1271.2 1861.8 1272.3 1865 C1273.4 1868.2 1276.3 1870.3 1278.3 1870.7 C1280.3 1871.1 1283.2 1869.4 1284.3 1867.3 C1285.4 1865.3 1284.9 1859.8 1285 1858.3"/>
<path d="M1298.3 1858.3 C1298.6 1859.8 1298.8 1865.4 1300 1867.3 C1301.2 1869.3 1303.8 1870.4 1305.7 1870 C1307.5 1869.6 1310 1868.1 1311 1865 C1312 1861.9 1311.6 1853.9 1311.7 1851.7"/>
<path d="M1285 1861.7 L1298.3 1861.7"/>
<path d="M1520 1855 C1520.6 1857.1 1521.4 1864.4 1523.3 1867.3 C1525.3 1870.3 1529.2 1872.2 1531.7 1872.7 C1534.2 1873.1 1536.9 1872.7 1538.3 1870 C1539.7 1867.3 1539.7 1858.9 1540 1856.7"/>
<path d="M1540 1860 C1540.8 1861.8 1542.5 1868.4 1545 1870.7 C1547.5 1872.9 1552.2 1873.9 1555 1873.3 C1557.8 1872.8 1560.2 1870.4 1561.7 1867.3 C1563.2 1864.3 1563.6 1857.1 1564 1855"/>
</g>
<g id="casterL">
<path d="M1161.7 1893.4 C1159.1 1893.8 1153.1 1896.8 1149.4 1899.6 C1145.7 1902.3 1141.8 1906.7 1139.6 1910 C1137.3 1913.3 1136.5 1916.9 1135.9 1919.3 C1135.2 1921.6 1135.3 1923.3 1135.6 1924.2 C1135.8 1925.1 1136.4 1923.8 1137.1 1924.8 C1137.8 1925.8 1138.1 1928.7 1139.6 1930.3 C1141 1932 1143.6 1933.6 1145.7 1934.7 C1147.9 1935.7 1150.2 1935.7 1152.5 1936.5 C1154.7 1937.3 1157.1 1938.9 1159.3 1939.6 C1161.4 1940.3 1163.4 1940.8 1165.4 1940.8 C1167.5 1940.8 1169.5 1940.7 1171.6 1939.6 C1173.6 1938.5 1175.9 1936.2 1177.7 1934 C1179.6 1931.9 1181 1928.9 1182.7 1926.7 C1184.3 1924.4 1186 1923.3 1187.6 1920.5 C1189.1 1917.7 1191.1 1913 1191.9 1910 C1192.7 1907 1193 1904.8 1192.5 1902.6 C1192 1900.5 1190.6 1898.4 1188.8 1897.1 C1187.1 1895.8 1183.7 1894.6 1182 1894.6 C1180.4 1894.6 1180.5 1896.4 1179 1897.1 C1177.4 1897.8 1175.1 1898.9 1172.8 1898.9 C1170.6 1898.9 1167.3 1898 1165.4 1897.1 C1163.6 1896.2 1164.4 1893 1161.7 1893.4Z" fill="#fff"/>
<path d="M1135.6 1924.2 C1136.6 1924.5 1139.7 1925.4 1142 1926 C1144.3 1926.7 1148.2 1927.6 1149.4 1927.9"/>
<path d="M1149.4 1927.9 C1149.6 1926.4 1149.6 1922.1 1150.6 1919.3 C1151.7 1916.4 1153.3 1913 1155.6 1910.6 C1157.8 1908.3 1161.3 1906.3 1164.2 1905.1 C1167.1 1903.9 1170 1903.5 1172.8 1903.6 C1175.6 1903.7 1178.6 1904.3 1180.8 1905.7 C1183.1 1907.1 1185.2 1910 1186.4 1911.9 C1187.5 1913.7 1187.5 1916 1187.7 1916.8"/>
<path d="M1151.9 1934 C1152 1932.6 1151.9 1928.3 1152.5 1925.4 C1153.1 1922.5 1154.1 1919 1155.6 1916.8 C1157 1914.6 1159.3 1913.3 1161.1 1912.5 C1163 1911.7 1164.4 1911.5 1166.7 1911.9 C1168.9 1912.3 1171.4 1913.3 1174.7 1915 C1177.9 1916.6 1184.4 1920.6 1186.4 1921.7"/>
<path d="M1149.4 1927.9 L1151.9 1934"/>
</g>
<g id="casterF">
<path d="M1410 1953.3 L1411.7 1962.7 L1440 1962.7 L1440 1953.3"/>
<path d="M1410 1953.3 C1412.4 1953.8 1419.3 1956 1424.3 1956 C1429.3 1956 1437.4 1953.8 1440 1953.3"/>
<path d="M1410 1968.3 C1408.5 1967.9 1403.4 1979.6 1402.3 1983.3 C1401.3 1987.1 1401.5 1994 1402.3 1996.7 C1403.1 1999.3 1406.7 2002.5 1408.3 2003.3 C1409.9 2004.1 1413.7 2004.9 1414.3 2002.7 C1415 2000.4 1413.9 1991.2 1413.3 1986.7 C1412.8 1982.1 1411.5 1968.8 1410 1968.3Z"/>
<path d="M1441.7 1968.3 C1442.8 1967.9 1447.4 1979.6 1448.3 1983.3 C1449.2 1987.1 1448.9 1994 1448.3 1996.7 C1447.8 1999.3 1445.7 2002.5 1444.3 2003.3 C1443 2004.1 1438.9 2004.9 1438.3 2002.7 C1437.8 2000.4 1439.6 1991.2 1440 1986.7 C1440.4 1982.1 1440.6 1968.8 1441.7 1968.3Z"/>
<path d="M1411.7 1962.7 L1413.3 1993.3 L1437.7 1993.3 L1440 1962.7"/>
</g>
<g id="casterG">
<path d="M1663.3 1920 L1685 1920 L1685 1953.3 L1663.3 1953.3Z"/>
<path d="M1671.7 1920 L1671.7 1914 L1675.7 1914 L1675.7 1920"/>
<path d="M1663.3 1926 C1662.1 1927.5 1657.1 1931.6 1655.7 1935 C1654.3 1938.4 1654.4 1942.8 1655 1946.7 C1655.6 1950.6 1657.4 1956 1659 1958.3 C1660.6 1960.7 1663.2 1961.4 1664.3 1960.7 C1665.5 1959.9 1665.7 1955.1 1666 1954"/>
<path d="M1685 1922.7 C1686.4 1924.2 1691.5 1927.9 1693.3 1931.7 C1695.2 1935.4 1696.3 1940.6 1696 1945 C1695.7 1949.4 1693.4 1955.7 1691.7 1958.3 C1689.9 1960.9 1686.9 1961.4 1685.7 1960.7 C1684.4 1959.9 1684.3 1955.1 1684 1954"/>
</g>
</defs>
<g stroke-width="2.6" transform="translate(-711,533.7) scale(0.72)">
<use href="#baseF"/>
<use href="#baseEnds"/>
<use href="#baseLeftEnd"/>
<use href="#baseLegFlat"/>
</g>
<circle cx="1225" cy="93" r="62.3" stroke-width="7.6"/>
<path d="M1202 78 L1226 55 L1233 55 L1233 118 L1251 118 L1251 128 L1203 128 L1203 118 L1222 118 L1222 72 L1207 86 Z" fill="#111" stroke="none"/>
<circle cx="2277" cy="98" r="62.3" stroke-width="7.6"/>
<text x="2275" y="133" font-size="106" text-anchor="middle" stroke="#111" stroke-width="1.4">2</text>
<circle cx="1182" cy="861" r="62.3" stroke-width="7.6"/>
<text x="1182.5" y="895" font-size="106" text-anchor="middle" stroke="#111" stroke-width="1.4">3</text>
<circle cx="2294" cy="840" r="62.3" stroke-width="7.6"/>
<text x="2290" y="875" font-size="104" text-anchor="middle" stroke="#111" stroke-width="1.4">4</text>
<circle cx="1189" cy="1517" r="62.3" stroke-width="7.6"/>
<text x="1189" y="1552" font-size="106" text-anchor="middle" stroke="#111" stroke-width="1.4">5</text>
<circle cx="1988" cy="1488" r="62.3" stroke-width="7.6"/>
<text x="1988.5" y="1523" font-size="106" text-anchor="middle" stroke="#111" stroke-width="1.4">6</text>
<circle cx="2689" cy="1475" r="62.3" stroke-width="7.6"/>
<text x="2692" y="1521" font-size="127" text-anchor="middle" stroke="#111" stroke-width="1.4">7</text>
<g stroke-width="2.4">
<path d="M1501.5 203 C1508.5 195.3 1508.6 196.4 1515 194 C1521.4 191.6 1530.3 188.9 1540 188.5 C1549.7 188.1 1562 189.5 1573 191.5 C1584 193.5 1593.8 196.5 1606 200.5 C1618.2 204.5 1633.2 211.2 1646 215.5 C1658.8 219.8 1670.2 221.3 1683 226.5 C1695.8 231.7 1710.3 239.3 1722.5 246.5 C1734.7 253.7 1746.8 261.8 1756 269.5 C1765.2 277.2 1772.5 284.9 1777.5 293 C1782.5 301.1 1784.3 309.7 1786 318 C1787.7 326.3 1787.8 335.2 1787.5 343 C1787.2 350.8 1788.6 351.4 1784 364.5 C1779.4 377.6 1766.9 403.7 1760 421.5 C1753.1 439.3 1748.2 456.2 1742.5 471.5 C1736.8 486.8 1732.4 499.8 1726 513 C1719.6 526.2 1711 541.9 1704 551 C1697 560.1 1690.9 563.9 1684 567.5 C1677.1 571.1 1671.6 571.8 1662.5 572.5 C1653.4 573.2 1643.3 573.6 1629.5 572 C1615.7 570.4 1596.2 567 1579.5 563 C1562.8 559 1546.1 554.4 1529.5 548 C1512.9 541.6 1495.2 532.8 1480 524.5 C1464.8 516.2 1449.1 506 1438 498 C1426.9 490 1419.6 483.4 1413.5 476.5 C1407.4 469.6 1404.6 463.8 1401.5 456.5 C1398.4 449.2 1395.9 440.8 1395 433 C1394.1 425.2 1394.3 420.2 1396 410 C1397.7 399.8 1400.8 384.7 1405 371.5 C1409.2 358.3 1415.2 343.2 1421 331 C1426.8 318.8 1431.3 313.2 1440 298 C1448.7 282.8 1462.8 255.8 1473 240 C1483.2 224.2 1494.5 210.7 1501.5 203Z" stroke-width="2.8"/>
<path d="M1504.2 205.4 C1510.9 198 1510.3 199.6 1516.3 197.4 C1522.3 195.1 1530.8 192.5 1540.2 192.1 C1549.5 191.7 1561.6 193.1 1572.4 195 C1583.1 197 1592.8 199.9 1604.9 203.9 C1617 207.9 1632.1 214.6 1644.8 218.9 C1657.6 223.2 1669 224.7 1681.6 229.8 C1694.3 235 1708.7 242.5 1720.7 249.6 C1732.7 256.7 1744.7 264.7 1753.7 272.2 C1762.6 279.8 1769.6 287.2 1774.4 294.9 C1779.2 302.6 1780.9 310.7 1782.5 318.7 C1784 326.7 1784.2 335.4 1783.9 342.8 C1783.6 350.3 1785.1 350.4 1780.6 363.3 C1776.1 376.2 1763.6 402.4 1756.6 420.2 C1749.7 438 1744.8 455 1739.1 470.2 C1733.5 485.5 1729.1 498.3 1722.8 511.4 C1716.4 524.5 1707.9 540 1701.1 548.8 C1694.4 557.6 1688.8 561 1682.3 564.3 C1675.9 567.7 1670.9 568.2 1662.2 568.9 C1653.5 569.6 1643.6 570 1629.9 568.4 C1616.3 566.9 1596.9 563.5 1580.3 559.5 C1563.8 555.5 1547.2 551 1530.8 544.6 C1514.4 538.3 1496.8 529.6 1481.7 521.3 C1466.6 513.1 1451 503 1440.1 495.1 C1429.2 487.2 1422.1 480.8 1416.2 474.1 C1410.3 467.5 1407.8 462 1404.8 455.1 C1401.9 448.2 1399.5 440 1398.6 432.6 C1397.7 425.2 1397.9 420.6 1399.6 410.6 C1401.2 400.6 1404.3 385.6 1408.4 372.6 C1412.5 359.6 1418.5 344.7 1424.3 332.5 C1430 320.4 1434.5 314.9 1443.1 299.8 C1451.8 284.7 1465.8 257.7 1476 242 C1486.2 226.2 1497.5 212.9 1504.2 205.4Z"/>
<path d="M1429 334 C1426.1 341.7 1415.8 365.2 1411.5 380 C1407.2 394.8 1404.6 412.5 1403.5 423 C1402.4 433.5 1403.3 437.2 1405 443 C1406.7 448.8 1409.9 454.1 1413.5 458 C1417.1 461.9 1424.3 465.1 1426.5 466.5"/>
<path d="M1426.5 466.5 L1666 555.3"/>
<path d="M1666 555.3 C1669.6 554.6 1680.8 555.3 1687.5 551 C1694.2 546.7 1700.4 537.2 1706 529.5 C1711.6 521.8 1716.3 513.3 1721 504.5 C1725.7 495.7 1731.8 481.2 1734 476.5"/>
</g>
<g stroke-width="2" stroke-linejoin="round" fill="#fff">
<g transform="translate(1543.7,206.3) rotate(21.8)">
<rect x="0" y="-3.8" width="64.6" height="7.5"/>
<path d="M1.5 -3.8 V3.8M5.4 -3.8 V3.8M9.2 -3.8 V3.8M13.1 -3.8 V3.8M16.9 -3.8 V3.8M20.8 -3.8 V3.8M24.6 -3.8 V3.8M28.5 -3.8 V3.8M32.3 -3.8 V3.8M36.2 -3.8 V3.8M40 -3.8 V3.8M43.9 -3.8 V3.8M47.7 -3.8 V3.8M51.6 -3.8 V3.8M55.4 -3.8 V3.8M59.3 -3.8 V3.8M63.1 -3.8 V3.8" stroke-width="2.2"/>
</g>
<path d="M1513.7 176.3 C1510.3 177.1 1506.9 190 1505.3 193.7 C1503.8 197.3 1501.1 201.4 1502 203.7 C1502.9 206 1506.7 210.3 1512 211 C1517.3 211.7 1537.6 210 1542 209 C1546.4 208 1546.2 206.5 1544.7 203.7 C1543.1 200.8 1534.5 191.3 1530.3 187.7 C1526.2 184 1517 175.5 1513.7 176.3Z" stroke-width="3.2" fill="none"/>
<path d="M1603.7 226.3 L1612.7 225.7 L1637 237 L1635.3 247 L1624.7 248.7 L1608 239.7 L1602 234.3Z"/>
<path d="M1612.7 225.7 L1608 239.7"/>
<g transform="translate(1522.7,271) rotate(23.3)">
<rect x="0" y="-3.8" width="82.7" height="7.5"/>
<path d="M1.5 -3.8 V3.8M5.5 -3.8 V3.8M9.5 -3.8 V3.8M13.5 -3.8 V3.8M17.4 -3.8 V3.8M21.4 -3.8 V3.8M25.4 -3.8 V3.8M29.4 -3.8 V3.8M33.4 -3.8 V3.8M37.4 -3.8 V3.8M41.4 -3.8 V3.8M45.3 -3.8 V3.8M49.3 -3.8 V3.8M53.3 -3.8 V3.8M57.3 -3.8 V3.8M61.3 -3.8 V3.8M65.3 -3.8 V3.8M69.3 -3.8 V3.8M73.3 -3.8 V3.8M77.2 -3.8 V3.8M81.2 -3.8 V3.8" stroke-width="2.2"/>
</g>
<path d="M1484.7 234.3 C1480.4 234.3 1475.3 246.9 1473.7 250.3 C1472.1 253.8 1471.6 258 1472.7 260.3 C1473.8 262.6 1475.8 265.9 1482 267.7 C1488.2 269.4 1513.9 273.6 1519.3 273.7 C1524.8 273.8 1524.4 271.4 1522.7 268.3 C1520.9 265.2 1511.1 254.9 1506 250.3 C1500.9 245.8 1489 234.3 1484.7 234.3Z" stroke-width="3.2" fill="none"/>
<path d="M1596 298.7 L1604.7 302 L1602 311.7 L1593.3 308.3Z"/>
<path d="M1650.3 200.3 L1642 195.3 L1635.3 208.7 L1645.3 213.7"/>
<path d="M1658.7 190.3 L1691.3 206.3 L1677 234.3 L1620.3 370.3 L1678.7 395.3 L1668.7 410.3 L1623.7 393.7 L1618.7 388.7 L1583.7 373.7 L1568.7 373.7 L1518 350.3 L1525.3 337 L1580.3 350.3 L1588 333.7 L1587 320.3 L1593.7 315.3 L1595.3 310.3 L1648.7 218.7Z"/>
<path d="M1648.7 218.7 L1677 234.3" fill="none"/>
<path d="M1661.3 195.7 L1686 208 L1675.3 229 L1651.3 216Z" fill="none"/>
<path d="M1665.3 206.3 C1666 205.4 1669.6 202.9 1671.3 203 C1673.1 203.1 1679.4 205.8 1680.3 207 C1681.3 208.2 1680 212.2 1679.3 213 C1678.7 213.8 1675.3 213.3 1674.7 213.7 C1674 214.1 1674.4 216.2 1673.7 216.3 C1673 216.5 1669.2 215.5 1668.7 215 C1668.1 214.5 1669.1 212.8 1668.7 212.3 C1668.3 211.9 1665.7 211.7 1665.3 211 C1664.9 210.3 1664.6 207.3 1665.3 206.3Z" stroke-width="2.2" fill="none"/>
<ellipse cx="1538" cy="350.3" rx="3" ry="2.7" fill="none"/>
<ellipse cx="1609.7" cy="350.3" rx="4.5" ry="4" fill="none"/>
<ellipse cx="1660.3" cy="398.7" rx="3" ry="2.7" fill="none"/>
<ellipse cx="1626.3" cy="280.3" rx="4.3" ry="7" fill="none" transform="rotate(15 1626.3 280.3)"/>
<ellipse cx="1646.3" cy="289.7" rx="4.3" ry="7" fill="none" transform="rotate(15 1646.3 289.7)"/>
</g>
<g stroke-width="2.4" stroke-dasharray="1.9 1.9" stroke-linecap="butt">
<path d="M1322 344 L1615 280"/>
<path d="M1322 345 L1535 350"/>
<path d="M1802 507 L1662 404"/>
<path d="M1821 512 L1652 297"/>
</g>
<g stroke-width="1.8" transform="translate(1250,340.5) rotate(3.3)">
<path d="M2 -11 L58.1 -11 A11 11 0 0 1 58.1 11 L2 11" fill="#fff"/>
<path d="M6 -11 V11M8.5 -11 V11M11 -11 V11M13.4 -11 V11M15.9 -11 V11M18.4 -11 V11M20.9 -11 V11M23.4 -11 V11M25.9 -11 V11M28.3 -11 V11M30.8 -11 V11M33.3 -11 V11M35.8 -11 V11M38.3 -11 V11M40.7 -11 V11M43.2 -11 V11M45.7 -11 V11M48.2 -11 V11M50.7 -11 V11M53.2 -11 V11M55.6 -11 V11M58.1 -11 V11" stroke-width="1.8"/>
<ellipse cx="0" cy="0" rx="6.5" ry="14.5" fill="#fff"/>
<ellipse cx="-1.3" cy="0" rx="2.3" ry="5.8" stroke-width="0.6" fill="#111"/>
</g>
<g stroke-width="1.8" transform="translate(1860.5,560.5) rotate(-129.9)">
<path d="M2 -9.5 L49.8 -9.5 A9.5 9.5 0 0 1 49.8 9.5 L2 9.5" fill="#fff"/>
<path d="M6 -9.5 V9.5M8.3 -9.5 V9.5M10.6 -9.5 V9.5M12.9 -9.5 V9.5M15.2 -9.5 V9.5M17.5 -9.5 V9.5M19.8 -9.5 V9.5M22.1 -9.5 V9.5M24.4 -9.5 V9.5M26.7 -9.5 V9.5M29 -9.5 V9.5M31.3 -9.5 V9.5M33.7 -9.5 V9.5M36 -9.5 V9.5M38.3 -9.5 V9.5M40.6 -9.5 V9.5M42.9 -9.5 V9.5M45.2 -9.5 V9.5M47.5 -9.5 V9.5M49.8 -9.5 V9.5" stroke-width="1.8"/>
<ellipse cx="0" cy="0" rx="5" ry="11" fill="#fff"/>
<ellipse cx="-1.3" cy="0" rx="1.8" ry="4.4" stroke-width="0.6" fill="#111"/>
</g>
<rect x="1209" y="318" width="8.6" height="53" fill="#111" stroke="none"/>
<g stroke-width="2">
<path d="M1319 510.5 L1495.5 450.5"/>
<path d="M2000 406 L1649 274"/>
</g>
<g stroke-width="3.5">
<path d="M2538.3 110 C2538.9 108.6 2540.1 104.2 2541.7 101.7 C2543.3 99.2 2545.3 97.2 2548 95 C2550.7 92.8 2554.4 90.3 2558 88.7 C2561.6 87 2565.4 86.1 2569.7 85 C2573.9 83.9 2581.1 82.5 2583.3 82"/>
<path d="M2583.3 82 L2800 36"/>
<path d="M2800 36 C2803.9 35.8 2813.9 32.7 2823.3 35 C2832.8 37.3 2842.8 40.3 2856.7 50 C2870.6 59.7 2892.8 77.8 2906.7 93.3 C2920.6 108.9 2933.1 131.1 2940 143.3 C2946.9 155.6 2946.9 162.8 2948.3 166.7"/>
<path d="M2948.3 166.7 C2946.9 171.1 2946.9 185 2940 193.3 C2933.1 201.7 2923.3 209.4 2906.7 216.7 C2890 223.9 2867.8 230.3 2840 236.7 C2812.2 243.1 2773.3 250.3 2740 255 C2706.7 259.7 2663.3 264.2 2640 265 C2616.7 265.8 2611.1 264.2 2600 260 C2588.9 255.8 2580.6 247.8 2573.3 240 C2566.1 232.2 2559.4 217.8 2556.7 213.3"/>
<path d="M2950 166.7 C2950.7 171.1 2955.1 183.3 2954 193.3 C2952.9 203.3 2951.2 215.6 2943.3 226.7 C2935.4 237.8 2929.4 248.9 2906.7 260 C2883.9 271.1 2834.4 285.3 2806.7 293.3 C2778.9 301.4 2762.2 304.4 2740 308.3 C2717.8 312.2 2690 315.8 2673.3 316.7 C2656.7 317.5 2651.1 317.2 2640 313.3 C2628.9 309.4 2616.7 301.7 2606.7 293.3 C2596.7 285 2587.8 275.6 2580 263.3 C2572.2 251.1 2563.3 227.2 2560 220"/>
<path d="M2538.3 110 C2538.6 115.6 2537.8 130.6 2540 143.3 C2542.2 156.1 2547.8 175 2551.7 186.7 C2555.6 198.3 2561.4 208.9 2563.3 213.3"/>
<path d="M2535 225.3 C2534.2 228.9 2529.7 237.8 2530 247 C2530.3 256.2 2532.2 269.2 2536.7 280.3 C2541.1 291.4 2548.9 298.1 2556.7 313.7 C2564.4 329.2 2572.2 350.3 2583.3 373.7 C2594.4 397 2614.4 432.6 2623.3 453.7 C2632.2 474.8 2630.6 484.8 2636.7 500.3 C2642.8 515.9 2652.2 533.1 2660 547 C2667.8 560.9 2676.7 572.8 2683.3 583.7 C2690 594.5 2697.2 607.3 2700 612"/>
<path d="M2700 612 C2700.6 612.8 2701.1 615.6 2703.3 617 C2705.6 618.4 2709.4 620.9 2713.3 620.3 C2717.2 619.8 2722.4 616.7 2726.7 613.7 C2730.9 610.6 2736.9 603.9 2739 602"/>
<path d="M2555 213.7 C2559.7 223.7 2574.2 255.9 2583.3 273.7 C2592.5 291.4 2600 304.2 2610 320.3 C2620 336.4 2633.3 354.8 2643.3 370.3 C2653.3 385.9 2660.6 398.7 2670 413.7 C2679.4 428.7 2692.2 443.7 2700 460.3 C2707.8 477 2711.7 496.4 2716.7 513.7 C2721.7 530.9 2726.3 548.9 2730 563.7 C2733.7 578.4 2737.5 595.6 2739 602"/>
<path d="M2551.7 217 C2553.6 226.4 2558.1 254.2 2563.3 273.7 C2568.6 293.1 2572.8 310.3 2583.3 333.7 C2593.9 357 2614.4 391.4 2626.7 413.7 C2638.9 435.9 2648.3 450.3 2656.7 467 C2665 483.7 2671.1 497.6 2676.7 513.7 C2682.2 529.8 2686.1 547.3 2690 563.7 C2693.9 580.1 2698.3 603.9 2700 612"/>
<path d="M2558.3 315.3 C2562.5 322.8 2571.9 343.4 2583.3 360.3 C2594.7 377.3 2619.4 407.6 2626.7 417"/>
</g>
<g stroke-width="2.9" stroke-linejoin="round">
<path d="M2498.3 188 L2495.3 187.7"/>
<path d="M2495.3 187.7 C2495.1 185.7 2492.9 168.4 2492.5 164.7 C2492 161 2490 145.4 2490 143.1 C2490 140.8 2491.8 137.9 2492.5 137.3 C2493.2 136.6 2496.8 135.6 2498.3 135.5 C2499.8 135.3 2509.7 135.1 2510.8 135.1"/>
<path d="M2510.8 135.1 L2515.7 140.1 L2522.4 141.1 L2538.2 137.8"/>
<path d="M2498.3 188 L2517.4 183.8 L2520.7 178.3 L2529.9 174.4 L2546.5 170"/>
<path d="M2495.3 187.7 L2527.4 227.9 L2535.7 229.2"/>
<path d="M2535.7 229.2 C2536.9 228.8 2541 227.8 2543.2 226.6 C2545.4 225.4 2547.7 223.8 2549 222.1 C2550.2 220.4 2549.5 217.6 2550.7 216.3 C2551.8 214.9 2554.8 214.2 2555.6 213.8"/>
<ellipse cx="2511.3" cy="147.3" rx="3.9" ry="2.7" fill="#111" transform="rotate(10 2511.3 147.3)"/>
<ellipse cx="2526.6" cy="170" rx="3.9" ry="2.7" fill="#111" transform="rotate(10 2526.6 170)"/>
<ellipse cx="2547.3" cy="183.8" rx="4.6" ry="3.2" transform="rotate(10 2547.3 183.8)"/>
<ellipse cx="2518.6" cy="200.1" rx="4.6" ry="3.2" transform="rotate(10 2518.6 200.1)"/>
<ellipse cx="2536" cy="220.9" rx="4" ry="2.8" stroke-width="4"/>
<ellipse cx="2564" cy="206.3" rx="7.5" ry="5" transform="rotate(-10 2564 206.3)"/>
<path d="M2543.2 146.4 L2568.1 196.3"/>
<path d="M2553.2 214.6 L2566.5 216.3 L2573.1 212.1"/>
<path d="M2543.2 144.8 L2555.6 159.7 L2573.1 153.9 L2596.4 142.3 L2603.9 140.6 L2628 142.3 L2651.2 139.8 L2657.9 134.8 L2709.4 125.6 L2711.9 128.5 L2710.3 136.5 L2719.4 151.4"/>
<path d="M2594.7 136.5 C2593 132 2583.4 104.4 2579.8 98.2 C2576.1 92 2565.3 85.7 2563.1 83.3 C2561 80.8 2560.9 78.6 2561.1 77.4 C2561.3 76.3 2562.2 74 2564.8 73.6 C2567.3 73.2 2580.1 73.5 2583.1 74.1 C2586.1 74.7 2589.4 77.4 2590.6 79.1 C2591.8 80.8 2593.4 86.9 2593.4 88.6 C2593.4 90.3 2590.9 93 2590.6 93.6"/>
<path d="M2590.6 93.6 L2605.5 132.3"/>
<path d="M2595 95.7 L2611.7 133.1" stroke-width="2.2"/>
<path d="M2639.6 138.1 C2637.5 133.3 2625.8 103.9 2621.3 96.6 C2616.9 89.2 2604 78.3 2601.4 74.9 C2598.7 71.5 2598.3 68.9 2598.5 67.5 C2598.7 66 2600.4 63.2 2603 62.6 C2605.7 62.1 2618.5 62.3 2621.3 63 C2624.1 63.6 2626.1 66.5 2627.1 68.3 C2628.2 70.1 2630.5 76.2 2630.5 78.3 C2630.5 80.3 2627.5 84.9 2627.1 85.7"/>
<path d="M2627.1 85.7 L2649.6 136.5"/>
<path d="M2629.6 91.9 L2646.3 136.8" stroke-width="2.2"/>
<path d="M2594.7 136.5 C2595.8 135.7 2598.6 132.3 2601.4 131.8 C2604.1 131.2 2609 132.1 2611.3 133.1 C2613.7 134.1 2614.8 137 2615.5 137.8"/>
<path d="M2558.1 200.5 C2559.7 199.7 2564.7 197 2569.8 194.6 C2574.9 192.3 2589.3 185.8 2596.4 183 C2603.5 180.2 2617.7 175.2 2623 173.9 C2628.3 172.5 2633.4 172.5 2636.3 172.7 C2639.2 172.9 2639.9 175.8 2644.6 175.5 C2649.2 175.2 2666.5 171.8 2671.2 170.5 C2675.8 169.3 2678.4 166.9 2679.5 166.4"/>
<path d="M2679.5 166.4 L2734.4 153.1 L2737.7 156.4 L2735.2 166.4 L2739.7 170"/>
<path d="M2661.2 139.8 L2677.8 164.7 L2719.4 154.7"/>
<ellipse cx="2686.2" cy="144.8" rx="11.5" ry="8"/>
<path d="M2677 116.5 L2689.5 118.2 L2719.4 154.7"/>
<path d="M2676.2 117.3 L2682 124 L2694.5 129.8 L2716.1 154.7"/>
<path d="M2709.4 136.5 L2719.4 149.8" stroke-width="2"/>
<path d="M2554.8 214.6 L2729.4 181.3 L2736 185 L2779.3 242 L2785.1 243.7 L2795.9 238.7 L2795.9 233.7 L2738.5 170"/>
<path d="M2749.3 188 L2785.1 237.9"/>
<path d="M2777.6 224.6 L2784.2 234.5" stroke-width="6.2"/>
<path d="M2591.4 213.8 C2591.7 215.3 2591.7 220.4 2593.1 222.9 C2594.4 225.4 2596.7 227.6 2599.7 228.7 C2602.7 229.8 2608 230.2 2611.3 229.6 C2614.7 228.9 2618 226.8 2619.7 224.6 C2621.3 222.3 2621.6 218.6 2621.3 216.3 C2621 213.9 2618.5 211.4 2618 210.4"/>
<ellipse cx="2608" cy="220.4" rx="6" ry="2.6" stroke-width="4"/>
</g>
<g stroke-width="1.8">
<rect x="2402" y="234.5" width="38" height="7" fill="#333"/>
<path d="M2440 234.5 L2444 238 L2440 241.5" fill="#333"/>
<ellipse cx="2399.5" cy="238" rx="3" ry="5.5" fill="#fff"/>
</g>
<g stroke-width="2.4" stroke-dasharray="1.9 1.9" stroke-linecap="butt">
<path d="M2444 236 L2495 192"/>
<path d="M2444 237 L2502 215"/>
<path d="M2444 238 L2517 227"/>
</g>
<path d="M2503 553 L2637 501" stroke-width="1.9"/>
<text x="2456" y="585" font-size="62" stroke="none" transform="rotate(-9 2480 570)">A</text>
<defs>
<g id="chair" stroke-linejoin="round">
<g stroke-width="3" fill="#fff">
<path d="M1695.3 1233.3 L1701 1238 L1647 1273.7 L1641.3 1268.3Z"/>
<path d="M1642 1268.3 L1615.3 1275 L1605.3 1286.7 L1620.3 1300 L1648.7 1281.7Z" stroke-width="4"/>
<path d="M1619.3 1296.7 L1647 1279" stroke-width="2" fill="none"/>
<path d="M1770.3 1261.7 L1775.7 1266.3 L1721 1301.3 L1715.3 1296.3Z"/>
<path d="M1715.3 1296.7 L1692 1303.3 L1680.3 1315 L1695.3 1328.3 L1722 1308.3Z" stroke-width="4"/>
<path d="M1694.3 1325 L1720.3 1305.7" stroke-width="2" fill="none"/>
</g>
<g stroke-width="3.4">
<path d="M1485 727.3 C1486.7 726.6 1491.1 723.8 1495 723 C1498.9 722.2 1502.2 721.6 1508.3 722.3 C1514.4 723.1 1527.8 726.5 1531.7 727.3"/>
<path d="M1531.7 727.3 L1708.3 774.7"/>
<path d="M1708.3 774.7 C1710 779.1 1714.7 789.1 1718.3 801.3 C1721.9 813.6 1728.6 833 1730 848 C1731.4 863 1727.2 884.1 1726.7 891.3"/>
<path d="M1726.7 891.3 C1729.2 897.4 1737.5 914.7 1741.7 928 C1745.8 941.3 1750.6 961.1 1751.7 971.3 C1752.8 981.6 1748.9 986.6 1748.3 989.7"/>
<path d="M1748.3 989.7 L1768.3 1078"/>
<path d="M1510 882.3 C1516.9 881.3 1536.9 876.2 1551.7 876.3 C1566.4 876.4 1578.9 880.1 1598.3 883 C1617.8 885.9 1646.9 892.7 1668.3 894 C1689.7 895.3 1716.9 891.2 1726.7 890.7"/>
<path d="M1542.3 1011.3 C1551.7 1009.7 1577.9 1002.9 1598.3 1001.3 C1618.8 999.8 1640 1003.9 1665 1002 C1690 1000.1 1734.4 991.7 1748.3 989.7"/>
<path d="M1484.3 756.3 C1485.3 758.8 1488.2 754.9 1490 771.3 C1491.8 787.7 1493.1 833 1495 854.7 C1496.9 876.3 1495.6 870.8 1501.7 901.3 C1507.8 931.9 1526.7 1015.2 1531.7 1038"/>
<path d="M1539 1071.3 L1561.7 1136.3 L1580 1141.3"/>
<path d="M1498.3 754.7 C1498.9 760.2 1500.3 770.2 1501.7 788 C1503.1 805.8 1505.3 845.2 1506.7 861.3 C1508.1 877.4 1507.5 873.6 1510 884.7 C1512.5 895.8 1515.8 902.7 1521.7 928 C1527.5 953.3 1541.1 1018.3 1545 1036.3"/>
<path d="M1485 727.3 L1490 733 L1507.7 740.7 L1501.7 753 L1498.3 754.7"/>
<path d="M1484.3 756.3 L1498.3 754.7"/>
</g>
<g stroke-width="2">
<path d="M1863.7 1075 C1863.1 1077.2 1861.4 1084.4 1860.3 1088.3 C1859.2 1092.2 1857.6 1096.7 1857 1098.3"/>
<path d="M1869.3 1076.7 L1863.7 1098.3"/>
<path d="M1882 1068.3 L1879.3 1098.3"/>
<path d="M1877 1073.3 L1869.3 1098.3"/>
<path d="M1755.3 1013.3 C1755.6 1011.9 1754.8 1007.1 1757 1005 C1759.2 1002.9 1755.6 1002.3 1768.7 1000.7 C1781.7 999 1818.7 994.8 1835.3 995 C1852 995.2 1858.1 997.2 1868.7 1001.7 C1879.2 1006.1 1892.3 1015.6 1898.7 1021.7 C1905.1 1027.8 1906.4 1033.3 1907 1038.3 C1907.6 1043.3 1904.5 1050 1902 1051.7 C1899.5 1053.3 1893.7 1048.9 1892 1048.3"/>
<path d="M1756 1020 C1763.7 1019.2 1787.1 1015.6 1802 1015 C1816.9 1014.4 1833.1 1013.9 1845.3 1016.7 C1857.6 1019.4 1867.6 1026.4 1875.3 1031.7 C1883.1 1036.9 1889.2 1045.6 1892 1048.3"/>
<path d="M1757 1008.3 C1767.3 1007.5 1801.7 1003.3 1818.7 1003.3 C1835.6 1003.3 1847.6 1004.2 1858.7 1008.3 C1869.8 1012.5 1878.4 1021.9 1885.3 1028.3 C1892.3 1034.7 1897.8 1043.6 1900.3 1046.7" stroke-dasharray="4 2.4" stroke-linecap="butt"/>
<path d="M1763.7 1044.3 C1766.7 1043.1 1770.1 1038.8 1782 1036.7 C1793.9 1034.6 1822 1031.1 1835.3 1031.7 C1848.7 1032.2 1857.6 1038.6 1862 1040"/>
<path d="M1782 1038.3 C1788.1 1037.6 1807.6 1034.2 1818.7 1034 C1829.8 1033.8 1841.2 1036.1 1848.7 1037.3 C1856.2 1038.6 1861.2 1040.9 1863.7 1041.7" stroke-width="3.8"/>
<ellipse cx="1871.3" cy="1059" rx="11" ry="11" fill="#fff"/>
<ellipse cx="1871.3" cy="1059" rx="4" ry="4"/>
</g>
<g stroke-width="3.4">
<path d="M1688.7 1101.7 C1679.8 1103.9 1650.9 1109.4 1635.3 1115 C1619.8 1120.6 1605.9 1128.9 1595.3 1135 C1584.8 1141.1 1576.2 1148.1 1572 1151.7 C1567.8 1155.3 1570.6 1155.8 1570.3 1156.7"/>
<path d="M1570.3 1156.7 C1576.3 1160 1602.2 1173.4 1615.3 1181.7 C1628.4 1189.9 1652.7 1209.4 1668.7 1218.3 C1684.7 1227.2 1719.8 1241.8 1735.3 1248.3 C1750.9 1254.9 1774.2 1265 1785.3 1267.7 C1796.4 1270.3 1807.6 1269.6 1818.7 1268.3 C1829.8 1267.1 1857.6 1261.4 1868.7 1258.3 C1879.8 1255.2 1894 1250.3 1902 1245 C1910 1239.7 1923.8 1224.6 1928.7 1218.3 C1933.6 1212.1 1937.3 1201 1938.7 1198.3"/>
<path d="M1607 1128.3 C1610.8 1131.4 1623.6 1145 1635.3 1151.7 C1647.1 1158.3 1677.6 1169.9 1695.3 1178.3 C1713.1 1186.8 1753.6 1206.2 1768.7 1215 C1783.8 1223.8 1800.7 1240.3 1808.7 1244.3 C1816.7 1248.3 1822.9 1246.7 1828.7 1245 C1834.4 1243.3 1844.4 1237 1852 1231.7 C1859.6 1226.3 1873.3 1211.2 1885.3 1205 C1897.3 1198.8 1930.9 1189.4 1942 1185 C1953.1 1180.6 1963.8 1175.7 1968.7 1171.7 C1973.6 1167.7 1977.3 1157.2 1978.7 1155"/>
<path d="M1723.7 1146.7 L1798.7 1134.3 L1882 1105"/>
<path d="M1727 1093.3 C1729 1092.2 1736.4 1086.8 1742 1085 C1747.6 1083.2 1762.9 1080.4 1768.7 1080 C1774.4 1079.6 1772 1078.8 1785.3 1081.7 C1798.7 1084.6 1855.8 1098.6 1868.7 1101.7 C1881.6 1104.8 1875.3 1103.9 1882 1105 C1888.7 1106.1 1909.3 1107.3 1918.7 1110 C1928 1112.7 1944.4 1120.8 1952 1125 C1959.6 1129.2 1971.7 1137.7 1975.3 1141.7 C1979 1145.7 1978.8 1153.2 1979.3 1155"/>
<path d="M1938.7 1188.3 L1938.7 1198.3"/>
</g>
<g stroke-width="2.1">
<path d="M1577 1031.7 C1576.8 1030.3 1574.1 1026.4 1576 1023.3 C1577.9 1020.3 1578.8 1016.1 1588.7 1013.3 C1598.6 1010.6 1619.2 1007.8 1635.3 1006.7 C1651.4 1005.6 1671.4 1005 1685.3 1006.7 C1699.2 1008.3 1709.8 1011.9 1718.7 1016.7 C1727.6 1021.4 1733.7 1029.2 1738.7 1035 C1743.7 1040.8 1747.3 1046.7 1748.7 1051.7 C1750.1 1056.7 1748.7 1061.7 1747 1065 C1745.3 1068.3 1741.4 1070.4 1738.7 1071.7 C1735.9 1072.9 1731.7 1072.2 1730.3 1072.3"/>
<path d="M1577 1031.7 C1586.7 1031 1617.3 1027.7 1635.3 1027.7 C1653.4 1027.7 1672.6 1028.2 1685.3 1031.7 C1698.1 1035.1 1704.5 1041.6 1712 1048.3 C1719.5 1055.1 1727.3 1068.3 1730.3 1072.3"/>
<path d="M1578.7 1025 C1588.1 1023.8 1618.7 1018.5 1635.3 1017.7 C1652 1016.8 1665.9 1016.6 1678.7 1020 C1691.4 1023.4 1701.4 1030.8 1712 1038.3 C1722.6 1045.8 1737 1060.6 1742 1065" stroke-dasharray="4 2.4" stroke-linecap="butt"/>
<path d="M1730.3 1072.3 C1727.3 1069.4 1719.5 1059.8 1712 1055 C1704.5 1050.2 1698.1 1046.4 1685.3 1043.3 C1672.6 1040.3 1653.7 1037.6 1635.3 1036.7 C1617 1035.7 1591.4 1037.4 1575.3 1037.7 C1559.2 1037.9 1545.9 1037.4 1538.7 1038.3 C1531.4 1039.3 1533.1 1039.4 1532 1043.3 C1530.9 1047.2 1530.3 1056.4 1532 1061.7 C1533.7 1066.9 1537.6 1072.2 1542 1075 C1546.4 1077.8 1550.9 1079.7 1558.7 1078.3 C1566.4 1076.9 1578.7 1070.3 1588.7 1066.7 C1598.7 1063.1 1613.7 1058.3 1618.7 1056.7"/>
<path d="M1575.3 1071 C1580.9 1069.4 1595.9 1064.1 1608.7 1061.7 C1621.4 1059.3 1639.2 1056.7 1652 1056.7 C1664.8 1056.7 1677.6 1059.4 1685.3 1061.7 C1693.1 1063.9 1696.4 1068.6 1698.7 1070"/>
<path d="M1695.3 1065 C1692.6 1062.8 1688.7 1055.3 1678.7 1051.7 C1668.7 1048.1 1652.6 1044.6 1635.3 1043.3 C1618.1 1042.1 1590.6 1043.8 1575.3 1044.3 C1560.1 1044.9 1549.8 1044.6 1543.7 1046.7 C1537.6 1048.7 1538.4 1053.1 1538.7 1056.7 C1538.9 1060.3 1542 1065.9 1545.3 1068.3 C1548.7 1070.7 1551.4 1072.4 1558.7 1071 C1565.9 1069.6 1579.2 1063.2 1588.7 1060 C1598.1 1056.8 1610.9 1053.1 1615.3 1051.7"/>
<path d="M1605.3 1055.7 C1611.4 1054.6 1629.2 1049.3 1642 1049 C1654.8 1048.7 1672.6 1051.5 1682 1054 C1691.4 1056.5 1695.9 1062.3 1698.7 1064" stroke-width="4"/>
<ellipse cx="1545.3" cy="1057.3" rx="5" ry="5.5"/>
<path d="M1723.7 1073.3 C1724.8 1074.2 1729.2 1075.3 1730.3 1078.3 C1731.4 1081.4 1731.2 1088.3 1730.3 1091.7 C1729.5 1095 1726.2 1097.2 1725.3 1098.3"/>
<path d="M1699.7 1098.3 C1698.7 1103.3 1696.6 1118.9 1693.7 1128.3 C1690.7 1137.8 1686.2 1147.8 1682 1155 C1677.8 1162.2 1671 1166.1 1668.7 1171.7 C1666.3 1177.2 1666.6 1182.2 1668 1188.3 C1669.4 1194.4 1674.4 1204.2 1677 1208.3 C1679.6 1212.5 1681.2 1213.1 1683.7 1213.3 C1686.2 1213.6 1688.1 1216.9 1692 1210 C1695.9 1203.1 1702.3 1185.3 1707 1171.7 C1711.7 1158.1 1717.3 1140.6 1720.3 1128.3 C1723.4 1116.1 1724.5 1103.3 1725.3 1098.3" fill="#fff"/>
<path d="M1706 1100 C1705.1 1104.7 1703.2 1118.9 1700.3 1128.3 C1697.4 1137.8 1692.7 1149.2 1688.7 1156.7 C1684.6 1164.2 1678.2 1168.1 1676 1173.3 C1673.8 1178.6 1674.3 1183.1 1675.3 1188.3 C1676.3 1193.6 1679.9 1201.9 1682 1205 C1684.1 1208.1 1684.9 1212.5 1688 1206.7 C1691.1 1200.8 1696.1 1183.1 1700.3 1170 C1704.6 1156.9 1710.7 1139.7 1713.7 1128.3 C1716.6 1116.9 1717.3 1106.1 1718 1101.7"/>
<ellipse cx="1682.7" cy="1194.3" rx="3.7" ry="4"/>
<ellipse cx="1707.7" cy="1081.7" rx="15" ry="15" fill="#fff"/>
<ellipse cx="1707.7" cy="1081.7" rx="5" ry="5"/>
</g>
</g>
</defs>
<use href="#chair"/>
<g stroke-width="2">
<ellipse cx="1260" cy="1166.3" rx="7.3" ry="18.5"/>
<path d="M1264.3 1148.7 C1266.7 1148.8 1275.2 1148.7 1278.3 1149.7 C1281.5 1150.7 1282.5 1153.8 1283.3 1154.7"/>
<path d="M1283.3 1154.7 L1284 1180.7"/>
<path d="M1284 1180.7 C1283.1 1181.2 1281.6 1183.3 1278.3 1184 C1275.1 1184.7 1266.7 1184.6 1264.3 1184.7"/>
</g>
<g stroke-width="1.9" transform="translate(1328,1167.5)">
<path d="M3 -9 L83 -9 A9 9 0 0 1 83 9 L3 9"/>
<path d="M11 -9 L10.2 9M15.2 -9 L14.4 9M19.4 -9 L18.6 9M23.5 -9 L22.7 9M27.7 -9 L26.9 9M31.9 -9 L31.1 9M36.1 -9 L35.3 9M40.2 -9 L39.4 9M44.4 -9 L43.6 9M48.6 -9 L47.8 9M52.8 -9 L52 9M56.9 -9 L56.1 9M61.1 -9 L60.3 9M65.3 -9 L64.5 9M69.5 -9 L68.7 9M73.6 -9 L72.8 9M77.8 -9 L77 9M82 -9 L81.2 9" stroke-width="1.6"/>
<ellipse cx="0" cy="0" rx="8" ry="14.5" fill="#fff"/>
<ellipse cx="-3.6" cy="0" rx="2.8" ry="5.8" stroke-width="0.6" fill="#111"/>
</g>
<g stroke-width="2.4" stroke-dasharray="1.9 1.9" stroke-linecap="butt">
<path d="M1438 1182 L1533 1063"/>
<path d="M1438 1182 L1680 1197"/>
</g>
<path d="M1924 948 L1859 995" stroke-width="2"/>
<g stroke-linejoin="round">
<g stroke-width="3" fill="#fff">
<path d="M2646.7 1169.3 L2654 1175 L2613.3 1203.3 L2605 1196.7Z"/>
<path d="M2606.7 1198.3 L2581.7 1203.3 L2575 1211.7 L2586.7 1221.7 L2610 1206.7Z" stroke-width="3.8"/>
<path d="M2586.7 1221.7 L2590 1216.7 L2610 1204.3" stroke-width="1.9" fill="none"/>
<path d="M2700 1186.7 L2707.3 1191.7 L2665 1225 L2656.7 1218.3Z"/>
<path d="M2658.3 1220 L2635 1225 L2628.3 1233.3 L2640 1243.3 L2663.3 1228.3Z" stroke-width="3.8"/>
<path d="M2640 1243.3 L2643.3 1238.3 L2663.3 1225.7" stroke-width="1.9" fill="none"/>
</g>
<g stroke-width="2.8">
<path d="M2821.7 1140 L2965 1166.7 L2963.3 1176.7 L2956.7 1178.3"/>
<path d="M2820 1148.3 L2960 1173.3"/>
<path d="M2746.7 1192.3 L2915 1218.3 L2953.3 1178.3"/>
<path d="M2770 1183.3 L2910 1201.7"/>
<path d="M2866.7 1160 L2821.7 1185"/>
<path d="M2911.7 1201.7 L2950 1172.3" stroke-width="7.5"/>
<path d="M2811.7 1200 L2795 1248.3"/>
<path d="M2795 1248.3 C2801.4 1251.7 2821.4 1263.1 2833.3 1268.3 C2845.3 1273.6 2857.2 1278.3 2866.7 1280 C2876.1 1281.7 2881.7 1281.9 2890 1278.3 C2898.3 1274.7 2907.8 1267.2 2916.7 1258.3 C2925.6 1249.4 2936.7 1236.7 2943.3 1225 C2950 1213.3 2954.4 1194.4 2956.7 1188.3"/>
<path d="M2940 1195 C2939.4 1197.2 2938.3 1204.4 2936.7 1208.3 C2935 1212.2 2931.1 1216.7 2930 1218.3"/>
<path d="M2921.7 1218.3 C2920.8 1220 2918.3 1225.6 2916.7 1228.3 C2915 1231.1 2912.5 1233.9 2911.7 1235"/>
</g>
<path d="M2923.3 1098.3 L2904 1138.3" stroke-width="5.2"/>
<path d="M2923.3 1098.3 L2904 1138.3" stroke-width="1.1" stroke="#fff" stroke-dasharray="0.8 1.8" stroke-linecap="butt"/>
<ellipse cx="2923.3" cy="1098.3" rx="4" ry="4" stroke-width="2.2" fill="#fff"/>
<ellipse cx="2923.3" cy="1098.3" rx="1.2" ry="1.2" fill="#111"/>
<path d="M2904 1138.3 L2896.7 1156.7" stroke-width="3.2" stroke-dasharray="3 3" stroke-linecap="butt"/>
<path d="M2953.3 1100 L2935 1140" stroke-width="5.2"/>
<path d="M2953.3 1100 L2935 1140" stroke-width="1.1" stroke="#fff" stroke-dasharray="0.8 1.8" stroke-linecap="butt"/>
<ellipse cx="2953.3" cy="1100" rx="4" ry="4" stroke-width="2.2" fill="#fff"/>
<ellipse cx="2953.3" cy="1100" rx="1.2" ry="1.2" fill="#111"/>
<path d="M2935 1140 L2926.7 1163.3" stroke-width="3.2" stroke-dasharray="3 3" stroke-linecap="butt"/>
<path d="M2890.7 1141.7 L2872.7 1181.7" stroke-width="5.2"/>
<path d="M2890.7 1141.7 L2872.7 1181.7" stroke-width="1.1" stroke="#fff" stroke-dasharray="0.8 1.8" stroke-linecap="butt"/>
<ellipse cx="2890.7" cy="1141.7" rx="4" ry="4" stroke-width="2.2" fill="#fff"/>
<ellipse cx="2890.7" cy="1141.7" rx="1.2" ry="1.2" fill="#111"/>
<path d="M2872.7 1181.7 L2863.3 1205" stroke-width="3.2" stroke-dasharray="3 3" stroke-linecap="butt"/>
<path d="M2920.7 1143.3 L2902.7 1183.3" stroke-width="5.2"/>
<path d="M2920.7 1143.3 L2902.7 1183.3" stroke-width="1.1" stroke="#fff" stroke-dasharray="0.8 1.8" stroke-linecap="butt"/>
<ellipse cx="2920.7" cy="1143.3" rx="4" ry="4" stroke-width="2.2" fill="#fff"/>
<ellipse cx="2920.7" cy="1143.3" rx="1.2" ry="1.2" fill="#111"/>
<path d="M2902.7 1183.3 L2893.3 1206.7" stroke-width="3.2" stroke-dasharray="3 3" stroke-linecap="butt"/>
<g stroke-width="3.4">
<path d="M2479 779.7 C2480.8 779.1 2486.2 776.9 2490 776.3 C2493.8 775.8 2496.9 775.6 2501.7 776.3 C2506.4 777.1 2515.6 779.9 2518.3 780.7"/>
<path d="M2518.3 780.7 L2650 816.3"/>
<path d="M2650 816.3 C2651.9 820.5 2658.6 830.5 2661.7 841.3 C2664.7 852.2 2667.8 870.5 2668.3 881.3 C2668.9 892.2 2665.6 902.2 2665 906.3"/>
<path d="M2665 906.3 C2667.2 912.2 2675.1 930.5 2678.3 941.3 C2681.6 952.2 2683.9 964.6 2684.3 971.3 C2684.8 978.1 2681.6 980.2 2681 982"/>
<path d="M2681 982 L2701.7 1051.3"/>
<path d="M2495 899.7 C2500.8 898.8 2518.3 894.7 2530 894.7 C2541.7 894.7 2549.7 897.4 2565 899.7 C2580.3 901.9 2605 906.9 2621.7 908 C2638.3 909.1 2657.8 906.6 2665 906.3"/>
<path d="M2525 998 C2532.2 996.8 2550.6 992.1 2568.3 990.7 C2586.1 989.3 2612.9 991.2 2631.7 989.7 C2650.4 988.1 2672.8 982.7 2681 981.3"/>
<path d="M2478.3 803 C2478.9 804.9 2480.6 802.7 2481.7 814.7 C2482.8 826.6 2483.3 858 2485 874.7 C2486.7 891.3 2486.7 890.2 2491.7 914.7 C2496.7 939.1 2510.1 1000.2 2515 1021.3 C2519.9 1042.4 2520 1038 2521 1041.3"/>
<path d="M2490 801.3 C2490.6 813.6 2491.9 856.9 2493.3 874.7 C2494.7 892.4 2494.2 889.1 2498.3 908 C2502.5 926.9 2512.8 967.4 2518.3 988 C2523.9 1008.6 2529.4 1024.1 2531.7 1031.3"/>
<path d="M2541.7 1049.7 C2542.2 1052.7 2543.3 1062.7 2545 1068 C2546.7 1073.3 2548.3 1078.3 2551.7 1081.3 C2555 1084.4 2562.8 1085.5 2565 1086.3"/>
<path d="M2479 779.7 L2483.3 784.7 L2496.7 791.3 L2493.3 801.3 L2490 801.3"/>
<path d="M2478.3 803 L2490 801.3"/>
</g>
<g stroke-width="3.1">
<path d="M2698.3 998 C2699.7 996.2 2701.4 993.4 2711.7 993 C2721.9 992.6 2763.4 993.3 2775 994.7 C2786.6 996 2794.1 1000.8 2798.3 1003 C2802.6 1005.2 2806.7 1009.3 2806.7 1011.3 C2806.7 1013.3 2803 1017.8 2798.3 1018 C2793.7 1018.2 2784.6 1014.6 2771.7 1013 C2758.8 1011.4 2711.4 1008.3 2701.7 1006.3 C2691.9 1004.3 2697 999.8 2698.3 998Z"/>
<path d="M2698.3 1005.3 C2713.9 1006.6 2774.2 1009.2 2791.7 1013 C2809.2 1016.8 2802.2 1022.2 2803.3 1028 C2804.4 1033.8 2800.8 1041.3 2798.3 1048 C2795.8 1054.7 2790 1064.7 2788.3 1068"/>
<path d="M2771.7 1014 C2774.4 1014.7 2784.3 1015.7 2788.3 1018 C2792.4 1020.3 2795.4 1023.3 2796 1028 C2796.6 1032.7 2794.6 1039.9 2791.7 1046.3 C2788.7 1052.7 2780.6 1063 2778.3 1066.3"/>
<path d="M2710 1013 C2710.3 1016.1 2709.7 1026.6 2711.7 1031.3 C2713.6 1036.1 2717.8 1039.2 2721.7 1041.3 C2725.6 1043.4 2723.3 1043.4 2735 1044 C2746.7 1044.6 2782.2 1044.6 2791.7 1044.7"/>
<path d="M2710 1013 L2788.3 1018"/>
<path d="M2803.3 1021.3 C2803.9 1023 2806.7 1026.9 2806.7 1031.3 C2806.7 1035.8 2805.3 1042.2 2803.3 1048 C2801.4 1053.8 2796.4 1063.3 2795 1066.3" stroke-width="2.2"/>
</g>
<g stroke-width="3.4">
<path d="M2661.7 1061.3 C2663.9 1060.2 2673 1054.6 2678.3 1053 C2683.7 1051.4 2694.6 1049.2 2701.7 1049.7 C2708.8 1050.1 2721.9 1053.9 2731.7 1056.3 C2741.4 1058.8 2766.1 1066 2775 1068 C2783.9 1070 2791.2 1069.3 2798.3 1071.3 C2805.4 1073.3 2820.8 1079.4 2828.3 1083 C2835.9 1086.6 2851 1094.7 2855 1098 C2859 1101.3 2859.2 1104.9 2858.3 1108 C2857.4 1111.1 2852.3 1118 2848.3 1121.3 C2844.3 1124.7 2835 1129.9 2828.3 1133 C2821.7 1136.1 2807.7 1139.6 2798.3 1144.7 C2789 1149.8 2765.9 1166.9 2758.3 1171.3 C2750.8 1175.8 2745.7 1177.3 2741.7 1178 C2737.7 1178.7 2734.1 1179.9 2728.3 1176.3 C2722.6 1172.8 2709 1157.3 2698.3 1151.3 C2687.7 1145.3 2655 1134 2648.3 1131.3"/>
<path d="M2665 1099.7 L2721.7 1091.3 L2781.7 1069.7"/>
<path d="M2625 1158 C2635.1 1162.3 2699.2 1190.4 2711.7 1194.7 C2724.1 1198.9 2723.5 1197 2731.7 1194.7 C2739.8 1192.3 2771.9 1180.5 2781.7 1174.7 C2791.4 1168.8 2811.1 1148.2 2815 1144.7"/>
<path d="M2581.7 1083 C2586.7 1081.3 2601.7 1075.6 2611.7 1073 C2621.7 1070.4 2636.7 1068.3 2641.7 1067.3"/>
</g>
<g stroke-width="3.2">
<path d="M2516.7 1046.3 C2517.4 1044.2 2519.9 1037.7 2521.7 1036.3 C2523.4 1035 2520.8 1033.5 2531.7 1034.7 C2542.6 1035.8 2601.8 1043.6 2615 1046.3 C2628.2 1049.1 2639.6 1053.9 2645 1058 C2650.4 1062.1 2660.5 1075.9 2661.7 1081.3 C2662.8 1086.8 2658.1 1096.1 2655 1104.7 C2651.9 1113.2 2638.9 1148.4 2635 1154.7 C2631.1 1160.9 2634.1 1161.5 2621.7 1158 C2609.2 1154.5 2540.4 1130.9 2528.3 1124.7 C2516.3 1118.4 2519.9 1112.8 2518.3 1104.7 C2516.8 1096.5 2515.2 1061.5 2515 1054.7 C2514.8 1047.9 2515.9 1048.5 2516.7 1046.3Z" fill="#fff"/>
<path d="M2523.3 1054.7 C2523.7 1047.7 2516.8 1042.2 2526.7 1042 C2536.6 1041.8 2595.7 1050.4 2608.3 1053 C2621 1055.6 2630.5 1061.4 2635 1064.7 C2639.5 1068 2645.9 1076.7 2646.7 1081.3 C2647.4 1086 2644.6 1096.7 2641.7 1104.7 C2638.8 1112.6 2634.1 1147.7 2621.7 1149.7 C2609.2 1151.6 2546.5 1127 2535 1121.3 C2523.5 1115.7 2524.7 1109.1 2523.3 1101.3 C2522 1093.6 2522.9 1061.6 2523.3 1054.7Z" fill="#fff"/>
<path d="M2541.7 1046.3 C2542.8 1051.1 2544.4 1068.2 2548.3 1074.7 C2552.2 1081.2 2550 1081.6 2565 1085.3 C2580 1089.1 2626.1 1095.3 2638.3 1097.3"/>
<path d="M2558.3 1048.7 C2559.2 1051.3 2561.4 1060.1 2563.3 1064.7 C2565.3 1069.3 2566.9 1073.3 2570 1076.3 C2573.1 1079.4 2579.7 1081.9 2581.7 1083"/>
<path d="M2531.7 1024.7 C2531.7 1022.7 2532.8 1017.2 2541.7 1016.3 C2550.6 1015.4 2586.3 1017.3 2598.3 1018 C2610.3 1018.7 2624.1 1019.1 2631.7 1021.3 C2639.2 1023.6 2650.8 1031.3 2655 1034.7 C2659.2 1038 2662.9 1043.9 2663.3 1046.3 C2663.8 1048.8 2660.8 1051.9 2658.3 1053 C2655.9 1054.1 2650.8 1056 2645 1054.7 C2639.2 1053.3 2628.8 1046.1 2615 1043 C2601.2 1039.9 2552.8 1033.8 2541.7 1031.3 C2530.6 1028.9 2531.7 1026.7 2531.7 1024.7Z" fill="#fff"/>
<path d="M2541.7 1129.7 L2543.3 1134" stroke-width="1.9"/>
<path d="M2601.7 1148 L2603.3 1152" stroke-width="1.9"/>
</g>
</g>
<g stroke-width="2">
<path d="M2778 777 L2668 861"/>
<path d="M2883 1333 L2864 1260"/>
</g>
<g stroke-width="2.5" transform="translate(0,0) scale(1.0)">
<use href="#baseF"/>
<use href="#baseEnds"/>
<use href="#baseStems"/>
<use href="#casterL"/>
<use href="#casterF"/>
</g>
<g stroke-width="2.1">
<use href="#casterG"/>
<ellipse cx="1424.3" cy="1597.7" rx="12.5" ry="4"/>
<path d="M1412.3 1597.7 L1412.3 1622.7"/>
<path d="M1436.7 1597.7 L1436.7 1622.7"/>
<path d="M1409 1624.3 C1411.6 1624.7 1419.3 1626.9 1424.3 1626.7 C1429.4 1626.4 1436.8 1623.3 1439.3 1622.7"/>
<path d="M1409 1624.3 L1409 1652.7"/>
<path d="M1439.3 1622.7 L1439.3 1652"/>
<path d="M1405.7 1653.3 C1408.8 1653.9 1418.2 1657 1424.3 1656.7 C1430.5 1656.3 1439.6 1652.2 1442.7 1651.3"/>
<path d="M1405.7 1653.3 L1405.7 1692"/>
<path d="M1442.7 1651.3 L1443.3 1692"/>
<path d="M1405.7 1692 C1408.8 1692.8 1418.1 1696.7 1424.3 1696.7 C1430.6 1696.7 1440.2 1692.8 1443.3 1692"/>
<path d="M1421.7 1716 L1421.7 1710.3 L1431.7 1710.3 L1431.7 1716"/>
<path d="M1414.3 1722.7 C1414.7 1721.7 1414.6 1717.9 1416.7 1716.7 C1418.7 1715.4 1423.4 1715.3 1426.7 1715.3 C1429.9 1715.3 1434.1 1715.4 1436 1716.7 C1437.9 1717.9 1437.9 1721.7 1438.3 1722.7"/>
<path d="M1414.3 1722.7 L1415 1778.7"/>
<path d="M1438.3 1722.7 L1438.3 1778.7"/>
<path d="M1415 1778.7 C1416.9 1779.1 1422.8 1781.3 1426.7 1781.3 C1430.6 1781.3 1436.4 1779.1 1438.3 1778.7"/>
</g>
<g stroke-width="2.9">
<path d="M1468.3 1622 L1468.3 1672.7"/>
<path d="M1456.7 1652.7 L1468.3 1672.7 L1480 1652.7"/>
<path d="M1490 1733.3 L1490 1783.3"/>
<path d="M1478.3 1764.3 L1490 1783.3 L1501.7 1764.3"/>
<path d="M1637.3 1959.3 L1637.3 1926.7"/>
<path d="M1626.7 1943.3 L1637.3 1926.7 L1648.3 1943.3"/>
</g>
<g stroke-width="2.1">
<path d="M1298.3 1675 L1390 1647.7"/>
<path d="M1173.3 1736.7 L1301.7 1847.7"/>
<path d="M1561.7 1667 L1443.3 1752"/>
<path d="M1775 1911.7 L1696.7 1943.3"/>
</g>
<use href="#chair" transform="translate(688,975.5) scale(0.87)"/>
<g stroke-width="3" stroke-linejoin="round">
<path d="M2406.7 1993 L2418.3 2019.7 L2300 2106.3"/>
<path d="M2300 2106.3 C2298.9 2106.7 2295.6 2108.6 2293.3 2108.3 C2291.1 2108.1 2287.8 2105.3 2286.7 2104.7"/>
<path d="M2286.7 2104.7 L2256.7 2078"/>
<path d="M2273.3 2080.3 L2288.3 2103"/>
</g>
<g stroke-width="2.9">
<path d="M2380 2094.7 L2380 2166.3"/>
<path d="M2368.3 2149.7 L2380 2166.3 L2391.7 2149.7"/>
</g>
<g stroke-width="3.9" transform="translate(1410.9,1155.1) scale(0.58)">
<use href="#baseF"/>
<use href="#baseLeftEnd"/>
<use href="#baseStems"/>
<use href="#casterL"/>
<use href="#casterF"/>
</g>
<g stroke-width="3.9" transform="translate(1410.9,1155.1) scale(0.58)">
<use href="#casterG" transform="translate(0,-20)"/>
</g>
<g stroke-width="2" fill="#fff">
<rect x="2225.7" y="2193" width="22.7" height="25"/>
<rect x="2227.8" y="2174.7" width="18.3" height="18.3"/>
<rect x="2229.8" y="2157.3" width="14.3" height="17.3"/>
<ellipse cx="2237" cy="2157.3" rx="7.2" ry="1.6"/>
</g>
<g stroke-width="3.2" stroke-linejoin="round">
<path d="M3180 2043 L3196.7 2068 L3076.7 2156.3"/>
<path d="M3076.7 2156.3 C3075.6 2156.6 3072.2 2158.2 3070 2157.7 C3067.8 2157.1 3064.4 2153.8 3063.3 2153"/>
<path d="M3063.3 2153 L3055 2133"/>
</g>
<g stroke-width="3.6" transform="translate(2051,982.9) scale(0.667)">
<use href="#baseF"/>
<use href="#baseLeftEnd"/>
<use href="#baseStems"/>
<use href="#casterL"/>
<use href="#casterF"/>
</g>
<g stroke-width="3.6" transform="translate(2051,982.9) scale(0.667)">
<use href="#casterG" transform="translate(0,-20)"/>
</g>
<g stroke-width="2.1" fill="#fff">
<rect x="2988.8" y="2174.7" width="25.7" height="28.3"/>
<rect x="2990.8" y="2154.7" width="21.7" height="20"/>
<rect x="2993.3" y="2134.7" width="16.7" height="20"/>
<ellipse cx="3001.7" cy="2134.7" rx="8.3" ry="1.6"/>
</g>
<use href="#chair" transform="translate(1222,869)"/>
<text x="2885.6" y="1469.7" font-size="58.7" textLength="396.6" lengthAdjust="spacingAndGlyphs" stroke="none" style="fill:#000">DRAKE D-480-1</text>
<text x="1255" y="568" font-size="79.7" textLength="57.9" lengthAdjust="spacingAndGlyphs" stroke-width="0.8">B</text>
<text x="2020.5" y="449" font-size="78.3" textLength="60.1" lengthAdjust="spacingAndGlyphs" stroke-width="0.8">D</text>
<text x="2332" y="259" font-size="50.7" textLength="51.9" lengthAdjust="spacingAndGlyphs" stroke-width="0.6">W</text>
<text x="1261" y="1259" font-size="79" textLength="50.7" lengthAdjust="spacingAndGlyphs" stroke-width="0.8">L</text>
<text x="1350" y="1259" font-size="79" textLength="42.2" lengthAdjust="spacingAndGlyphs" stroke-width="0.8">J</text>
<text x="1927" y="975.5" font-size="74.6" textLength="50.9" lengthAdjust="spacingAndGlyphs" stroke-width="1.8">C</text>
<text x="2785" y="798" font-size="56.5" textLength="37" lengthAdjust="spacingAndGlyphs" stroke-width="0.6">A</text>
<text x="2961" y="1118" font-size="55.1" textLength="36.8" lengthAdjust="spacingAndGlyphs" stroke-width="0.6">K</text>
<text x="2887" y="1362" font-size="55.1" textLength="49" lengthAdjust="spacingAndGlyphs" stroke-width="0.6">Q</text>
<text x="1252" y="1701" font-size="50.7" textLength="36.3" lengthAdjust="spacingAndGlyphs" stroke-width="0.6">H</text>
<text x="1127" y="1732" font-size="58" textLength="39.2" lengthAdjust="spacingAndGlyphs" stroke-width="0.6">F</text>
<text x="1568" y="1680" font-size="56.5" textLength="36" lengthAdjust="spacingAndGlyphs" stroke-width="0.6">E</text>
<text x="1775" y="1932" font-size="62.3" textLength="49.2" lengthAdjust="spacingAndGlyphs" stroke-width="0.7">G</text>
</svg>
</body></html>
